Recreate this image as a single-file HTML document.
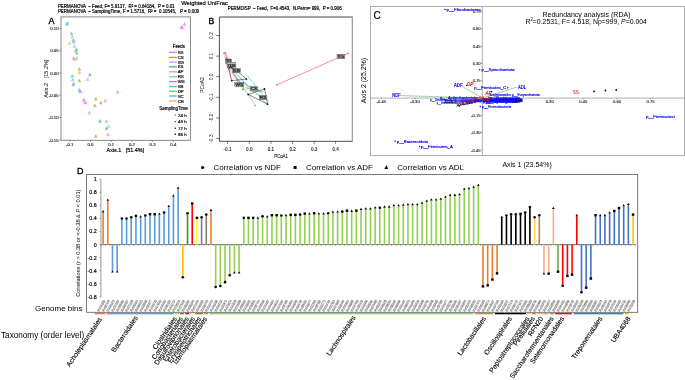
<!DOCTYPE html>
<html><head><meta charset="utf-8"><title>Figure</title>
<style>
html,body{margin:0;padding:0;background:#fff;width:685px;height:380px;overflow:hidden}
svg{display:block;font-family:"Liberation Sans", sans-serif;will-change:transform} text{white-space:pre}
</style></head><body>
<svg width="685" height="380" viewBox="0 0 685 380">
<rect width="685" height="380" fill="#fff"/>
<text x="57.90" y="7.60" font-size="4.6" fill="#000" stroke="#000" stroke-width="0.18" textLength="116.70" lengthAdjust="spacingAndGlyphs">PERMANOVA  – Feed, F= 5.9137,  R² = 0.64184,  P = 0.01</text>
<text x="57.90" y="12.50" font-size="4.6" fill="#000" stroke="#000" stroke-width="0.18" textLength="141.20" lengthAdjust="spacingAndGlyphs">PERMANOVA  – SamplingTime, F = 1.5716,  R² =  0.10545,   P = 0.009</text>
<text x="181.20" y="4.90" font-size="6.1" fill="#000" stroke="#000" stroke-width="0.18" textLength="46.80" lengthAdjust="spacingAndGlyphs">Weighted UniFrac</text>
<text x="48.60" y="24.00" font-size="9" fill="#000" stroke="#000" stroke-width="0.35">A</text>
<rect x="61" y="16.9" width="129.4" height="123.4" fill="none" stroke="#7a7a7a" stroke-width="0.9"/>
<line x1="59.30" y1="28.60" x2="61.00" y2="28.60" stroke="#555" stroke-width="0.6" />
<text x="58.60" y="30.10" font-size="4.3" fill="#333" stroke="#333" stroke-width="0.18" text-anchor="end">0.10</text>
<line x1="59.30" y1="50.80" x2="61.00" y2="50.80" stroke="#555" stroke-width="0.6" />
<text x="58.60" y="52.30" font-size="4.3" fill="#333" stroke="#333" stroke-width="0.18" text-anchor="end">0.05</text>
<line x1="59.30" y1="73.00" x2="61.00" y2="73.00" stroke="#555" stroke-width="0.6" />
<text x="58.60" y="74.50" font-size="4.3" fill="#333" stroke="#333" stroke-width="0.18" text-anchor="end">0.00</text>
<line x1="59.30" y1="95.20" x2="61.00" y2="95.20" stroke="#555" stroke-width="0.6" />
<text x="58.60" y="96.70" font-size="4.3" fill="#333" stroke="#333" stroke-width="0.18" text-anchor="end">-0.05</text>
<line x1="59.30" y1="117.60" x2="61.00" y2="117.60" stroke="#555" stroke-width="0.6" />
<text x="58.60" y="119.10" font-size="4.3" fill="#333" stroke="#333" stroke-width="0.18" text-anchor="end">-0.10</text>
<line x1="59.30" y1="140.00" x2="61.00" y2="140.00" stroke="#555" stroke-width="0.6" />
<text x="58.60" y="141.50" font-size="4.3" fill="#333" stroke="#333" stroke-width="0.18" text-anchor="end">-0.15</text>
<line x1="69.80" y1="140.40" x2="69.80" y2="141.90" stroke="#555" stroke-width="0.6" />
<text x="69.80" y="145.80" font-size="4.3" fill="#333" stroke="#333" stroke-width="0.18" text-anchor="middle">-0.1</text>
<line x1="90.50" y1="140.40" x2="90.50" y2="141.90" stroke="#555" stroke-width="0.6" />
<text x="90.50" y="145.80" font-size="4.3" fill="#333" stroke="#333" stroke-width="0.18" text-anchor="middle">0.0</text>
<line x1="111.20" y1="140.40" x2="111.20" y2="141.90" stroke="#555" stroke-width="0.6" />
<text x="111.20" y="145.80" font-size="4.3" fill="#333" stroke="#333" stroke-width="0.18" text-anchor="middle">0.1</text>
<line x1="131.90" y1="140.40" x2="131.90" y2="141.90" stroke="#555" stroke-width="0.6" />
<text x="131.90" y="145.80" font-size="4.3" fill="#333" stroke="#333" stroke-width="0.18" text-anchor="middle">0.2</text>
<line x1="152.60" y1="140.40" x2="152.60" y2="141.90" stroke="#555" stroke-width="0.6" />
<text x="152.60" y="145.80" font-size="4.3" fill="#333" stroke="#333" stroke-width="0.18" text-anchor="middle">0.3</text>
<line x1="173.30" y1="140.40" x2="173.30" y2="141.90" stroke="#555" stroke-width="0.6" />
<text x="173.30" y="145.80" font-size="4.3" fill="#333" stroke="#333" stroke-width="0.18" text-anchor="middle">0.4</text>
<text x="106.60" y="151.60" font-size="5.5" fill="#000" stroke="#000" stroke-width="0.18" textLength="37.60" lengthAdjust="spacingAndGlyphs">Axis.1   [51.4%]</text>
<text transform="translate(48.1,97.8) rotate(-90)" font-size="5.5" fill="#000" textLength="38.2" lengthAdjust="spacingAndGlyphs">Axis.2   [15.2%]</text>
<path d="M66.50 22.60 L67.95 25.40 L65.05 25.40 Z" fill="#68D6C3" fill-opacity="0.4" stroke="#68D6C3" stroke-width="0.5" stroke-opacity="0.8"/>
<path d="M66.50 22.80 L67.40 24.40 L65.60 24.40 Z" fill="#68D6C3" fill-opacity="0.65"/>
<path d="M67.60 21.80 L69.05 24.60 L66.15 24.60 Z" fill="#34C2E6" fill-opacity="0.4" stroke="#34C2E6" stroke-width="0.5" stroke-opacity="0.8"/>
<path d="M67.60 22.00 L68.50 23.60 L66.70 23.60 Z" fill="#34C2E6" fill-opacity="0.65"/>
<path d="M71.50 32.10 L72.95 34.90 L70.05 34.90 Z" fill="#34C2E6" fill-opacity="0.4" stroke="#34C2E6" stroke-width="0.5" stroke-opacity="0.8"/>
<path d="M71.50 32.30 L72.40 33.90 L70.60 33.90 Z" fill="#34C2E6" fill-opacity="0.65"/>
<path d="M72.40 35.30 L73.85 38.10 L70.95 38.10 Z" fill="#EFB061" fill-opacity="0.4" stroke="#EFB061" stroke-width="0.5" stroke-opacity="0.8"/>
<path d="M72.40 35.50 L73.30 37.10 L71.50 37.10 Z" fill="#EFB061" fill-opacity="0.65"/>
<path d="M73.20 38.60 L74.65 41.40 L71.75 41.40 Z" fill="#34C2E6" fill-opacity="0.4" stroke="#34C2E6" stroke-width="0.5" stroke-opacity="0.8"/>
<path d="M73.20 38.80 L74.10 40.40 L72.30 40.40 Z" fill="#34C2E6" fill-opacity="0.65"/>
<path d="M73.80 40.50 L75.25 43.30 L72.35 43.30 Z" fill="#58B0F3" fill-opacity="0.4" stroke="#58B0F3" stroke-width="0.5" stroke-opacity="0.8"/>
<path d="M73.80 40.70 L74.70 42.30 L72.90 42.30 Z" fill="#58B0F3" fill-opacity="0.65"/>
<path d="M69.50 41.70 L70.95 44.50 L68.05 44.50 Z" fill="#EFB061" fill-opacity="0.4" stroke="#EFB061" stroke-width="0.5" stroke-opacity="0.8"/>
<path d="M69.50 41.90 L70.40 43.50 L68.60 43.50 Z" fill="#EFB061" fill-opacity="0.65"/>
<path d="M74.50 44.80 L75.95 47.60 L73.05 47.60 Z" fill="#C6A2F5" fill-opacity="0.4" stroke="#C6A2F5" stroke-width="0.5" stroke-opacity="0.8"/>
<path d="M74.50 45.00 L75.40 46.60 L73.60 46.60 Z" fill="#C6A2F5" fill-opacity="0.65"/>
<path d="M76.50 48.10 L77.95 50.90 L75.05 50.90 Z" fill="#2EC46C" fill-opacity="0.4" stroke="#2EC46C" stroke-width="0.5" stroke-opacity="0.8"/>
<path d="M76.50 48.30 L77.40 49.90 L75.60 49.90 Z" fill="#2EC46C" fill-opacity="0.65"/>
<path d="M75.30 49.80 L76.75 52.60 L73.85 52.60 Z" fill="#C6A2F5" fill-opacity="0.4" stroke="#C6A2F5" stroke-width="0.5" stroke-opacity="0.8"/>
<path d="M75.30 50.00 L76.20 51.60 L74.40 51.60 Z" fill="#C6A2F5" fill-opacity="0.65"/>
<path d="M76.80 51.50 L78.25 54.30 L75.35 54.30 Z" fill="#79C23A" fill-opacity="0.4" stroke="#79C23A" stroke-width="0.5" stroke-opacity="0.8"/>
<path d="M76.80 51.70 L77.70 53.30 L75.90 53.30 Z" fill="#79C23A" fill-opacity="0.65"/>
<path d="M73.60 56.80 L75.05 59.60 L72.15 59.60 Z" fill="#F25BBE" fill-opacity="0.4" stroke="#F25BBE" stroke-width="0.5" stroke-opacity="0.8"/>
<path d="M73.60 57.00 L74.50 58.60 L72.70 58.60 Z" fill="#F25BBE" fill-opacity="0.65"/>
<path d="M76.80 56.80 L78.25 59.60 L75.35 59.60 Z" fill="#68D6C3" fill-opacity="0.4" stroke="#68D6C3" stroke-width="0.5" stroke-opacity="0.8"/>
<path d="M76.80 57.00 L77.70 58.60 L75.90 58.60 Z" fill="#68D6C3" fill-opacity="0.65"/>
<path d="M75.10 57.90 L76.55 60.70 L73.65 60.70 Z" fill="#EFB061" fill-opacity="0.4" stroke="#EFB061" stroke-width="0.5" stroke-opacity="0.8"/>
<path d="M75.10 58.10 L76.00 59.70 L74.20 59.70 Z" fill="#EFB061" fill-opacity="0.65"/>
<path d="M79.30 67.60 L80.75 70.40 L77.85 70.40 Z" fill="#79C23A" fill-opacity="0.4" stroke="#79C23A" stroke-width="0.5" stroke-opacity="0.8"/>
<path d="M79.30 67.80 L80.20 69.40 L78.40 69.40 Z" fill="#79C23A" fill-opacity="0.65"/>
<path d="M79.30 71.10 L80.75 73.90 L77.85 73.90 Z" fill="#EFB061" fill-opacity="0.4" stroke="#EFB061" stroke-width="0.5" stroke-opacity="0.8"/>
<path d="M79.30 71.30 L80.20 72.90 L78.40 72.90 Z" fill="#EFB061" fill-opacity="0.65"/>
<path d="M72.30 74.50 L73.75 77.30 L70.85 77.30 Z" fill="#34C2E6" fill-opacity="0.4" stroke="#34C2E6" stroke-width="0.5" stroke-opacity="0.8"/>
<path d="M72.30 74.70 L73.20 76.30 L71.40 76.30 Z" fill="#34C2E6" fill-opacity="0.65"/>
<path d="M89.80 73.20 L91.25 76.00 L88.35 76.00 Z" fill="#2EC46C" fill-opacity="0.4" stroke="#2EC46C" stroke-width="0.5" stroke-opacity="0.8"/>
<path d="M89.80 73.40 L90.70 75.00 L88.90 75.00 Z" fill="#2EC46C" fill-opacity="0.65"/>
<path d="M72.80 78.20 L74.25 81.00 L71.35 81.00 Z" fill="#68D6C3" fill-opacity="0.4" stroke="#68D6C3" stroke-width="0.5" stroke-opacity="0.8"/>
<path d="M72.80 78.40 L73.70 80.00 L71.90 80.00 Z" fill="#68D6C3" fill-opacity="0.65"/>
<path d="M79.30 79.10 L80.75 81.90 L77.85 81.90 Z" fill="#B3A222" fill-opacity="0.4" stroke="#B3A222" stroke-width="0.5" stroke-opacity="0.8"/>
<path d="M79.30 79.30 L80.20 80.90 L78.40 80.90 Z" fill="#B3A222" fill-opacity="0.65"/>
<path d="M87.60 77.80 L89.05 80.60 L86.15 80.60 Z" fill="#C6A2F5" fill-opacity="0.4" stroke="#C6A2F5" stroke-width="0.5" stroke-opacity="0.8"/>
<path d="M87.60 78.00 L88.50 79.60 L86.70 79.60 Z" fill="#C6A2F5" fill-opacity="0.65"/>
<path d="M73.70 81.80 L75.15 84.60 L72.25 84.60 Z" fill="#C6A2F5" fill-opacity="0.4" stroke="#C6A2F5" stroke-width="0.5" stroke-opacity="0.8"/>
<path d="M73.70 82.00 L74.60 83.60 L72.80 83.60 Z" fill="#C6A2F5" fill-opacity="0.65"/>
<path d="M73.40 83.30 L74.85 86.10 L71.95 86.10 Z" fill="#58B0F3" fill-opacity="0.4" stroke="#58B0F3" stroke-width="0.5" stroke-opacity="0.8"/>
<path d="M73.40 83.50 L74.30 85.10 L72.50 85.10 Z" fill="#58B0F3" fill-opacity="0.65"/>
<path d="M79.30 88.30 L80.75 91.10 L77.85 91.10 Z" fill="#58B0F3" fill-opacity="0.4" stroke="#58B0F3" stroke-width="0.5" stroke-opacity="0.8"/>
<path d="M79.30 88.50 L80.20 90.10 L78.40 90.10 Z" fill="#58B0F3" fill-opacity="0.65"/>
<path d="M80.20 90.10 L81.65 92.90 L78.75 92.90 Z" fill="#F25BBE" fill-opacity="0.4" stroke="#F25BBE" stroke-width="0.5" stroke-opacity="0.8"/>
<path d="M80.20 90.30 L81.10 91.90 L79.30 91.90 Z" fill="#F25BBE" fill-opacity="0.65"/>
<path d="M117.40 90.50 L118.85 93.30 L115.95 93.30 Z" fill="#EE6FEA" fill-opacity="0.4" stroke="#EE6FEA" stroke-width="0.5" stroke-opacity="0.8"/>
<path d="M117.40 90.70 L118.30 92.30 L116.50 92.30 Z" fill="#EE6FEA" fill-opacity="0.65"/>
<path d="M83.90 98.40 L85.35 101.20 L82.45 101.20 Z" fill="#F25BBE" fill-opacity="0.4" stroke="#F25BBE" stroke-width="0.5" stroke-opacity="0.8"/>
<path d="M83.90 98.60 L84.80 100.20 L83.00 100.20 Z" fill="#F25BBE" fill-opacity="0.65"/>
<path d="M85.20 101.20 L86.65 104.00 L83.75 104.00 Z" fill="#F25BBE" fill-opacity="0.4" stroke="#F25BBE" stroke-width="0.5" stroke-opacity="0.8"/>
<path d="M85.20 101.40 L86.10 103.00 L84.30 103.00 Z" fill="#F25BBE" fill-opacity="0.65"/>
<path d="M95.90 97.50 L97.35 100.30 L94.45 100.30 Z" fill="#B3A222" fill-opacity="0.4" stroke="#B3A222" stroke-width="0.5" stroke-opacity="0.8"/>
<path d="M95.90 97.70 L96.80 99.30 L95.00 99.30 Z" fill="#B3A222" fill-opacity="0.65"/>
<path d="M105.20 99.10 L106.65 101.90 L103.75 101.90 Z" fill="#F88F86" fill-opacity="0.4" stroke="#F88F86" stroke-width="0.5" stroke-opacity="0.8"/>
<path d="M105.20 99.30 L106.10 100.90 L104.30 100.90 Z" fill="#F88F86" fill-opacity="0.65"/>
<path d="M100.80 101.20 L102.25 104.00 L99.35 104.00 Z" fill="#B3A222" fill-opacity="0.4" stroke="#B3A222" stroke-width="0.5" stroke-opacity="0.8"/>
<path d="M100.80 101.40 L101.70 103.00 L99.90 103.00 Z" fill="#B3A222" fill-opacity="0.65"/>
<path d="M94.80 104.10 L96.25 106.90 L93.35 106.90 Z" fill="#B3A222" fill-opacity="0.4" stroke="#B3A222" stroke-width="0.5" stroke-opacity="0.8"/>
<path d="M94.80 104.30 L95.70 105.90 L93.90 105.90 Z" fill="#B3A222" fill-opacity="0.65"/>
<path d="M89.40 111.30 L90.85 114.10 L87.95 114.10 Z" fill="#F88F86" fill-opacity="0.4" stroke="#F88F86" stroke-width="0.5" stroke-opacity="0.8"/>
<path d="M89.40 111.50 L90.30 113.10 L88.50 113.10 Z" fill="#F88F86" fill-opacity="0.65"/>
<path d="M100.10 119.60 L101.55 122.40 L98.65 122.40 Z" fill="#2EC46C" fill-opacity="0.4" stroke="#2EC46C" stroke-width="0.5" stroke-opacity="0.8"/>
<path d="M100.10 119.80 L101.00 121.40 L99.20 121.40 Z" fill="#2EC46C" fill-opacity="0.65"/>
<path d="M106.50 120.00 L107.95 122.80 L105.05 122.80 Z" fill="#F88F86" fill-opacity="0.4" stroke="#F88F86" stroke-width="0.5" stroke-opacity="0.8"/>
<path d="M106.50 120.20 L107.40 121.80 L105.60 121.80 Z" fill="#F88F86" fill-opacity="0.65"/>
<path d="M108.80 124.80 L110.25 127.60 L107.35 127.60 Z" fill="#68D6C3" fill-opacity="0.4" stroke="#68D6C3" stroke-width="0.5" stroke-opacity="0.8"/>
<path d="M108.80 125.00 L109.70 126.60 L107.90 126.60 Z" fill="#68D6C3" fill-opacity="0.65"/>
<path d="M106.50 127.00 L107.95 129.80 L105.05 129.80 Z" fill="#2EC46C" fill-opacity="0.4" stroke="#2EC46C" stroke-width="0.5" stroke-opacity="0.8"/>
<path d="M106.50 127.20 L107.40 128.80 L105.60 128.80 Z" fill="#2EC46C" fill-opacity="0.65"/>
<path d="M95.80 134.70 L97.25 137.50 L94.35 137.50 Z" fill="#79C23A" fill-opacity="0.4" stroke="#79C23A" stroke-width="0.5" stroke-opacity="0.8"/>
<path d="M95.80 134.90 L96.70 136.50 L94.90 136.50 Z" fill="#79C23A" fill-opacity="0.65"/>
<path d="M108.10 133.00 L109.55 135.80 L106.65 135.80 Z" fill="#F88F86" fill-opacity="0.4" stroke="#F88F86" stroke-width="0.5" stroke-opacity="0.8"/>
<path d="M108.10 133.20 L109.00 134.80 L107.20 134.80 Z" fill="#F88F86" fill-opacity="0.65"/>
<path d="M181.50 25.60 L182.95 28.40 L180.05 28.40 Z" fill="#EE6FEA" fill-opacity="0.4" stroke="#EE6FEA" stroke-width="0.5" stroke-opacity="0.8"/>
<path d="M181.50 25.80 L182.40 27.40 L180.60 27.40 Z" fill="#EE6FEA" fill-opacity="0.65"/>
<path d="M184.60 22.60 L186.05 25.40 L183.15 25.40 Z" fill="#EE6FEA" fill-opacity="0.4" stroke="#EE6FEA" stroke-width="0.5" stroke-opacity="0.8"/>
<path d="M184.60 22.80 L185.50 24.40 L183.70 24.40 Z" fill="#EE6FEA" fill-opacity="0.65"/>
<path d="M182.20 26.20 L183.65 29.00 L180.75 29.00 Z" fill="#EE6FEA" fill-opacity="0.4" stroke="#EE6FEA" stroke-width="0.5" stroke-opacity="0.8"/>
<path d="M182.20 26.40 L183.10 28.00 L181.30 28.00 Z" fill="#EE6FEA" fill-opacity="0.65"/>
<text x="172.80" y="48.20" font-size="4.6" fill="#000" stroke="#000" stroke-width="0.18" textLength="12.00" lengthAdjust="spacingAndGlyphs">Feeds</text>
<line x1="169.00" y1="52.40" x2="176.80" y2="52.40" stroke="#EE6FEA" stroke-width="1.3" />
<text x="177.70" y="54.00" font-size="4.4" fill="#000" stroke="#000" stroke-width="0.18">SS</text>
<line x1="169.00" y1="57.40" x2="176.80" y2="57.40" stroke="#B3A222" stroke-width="1.3" />
<text x="177.70" y="59.00" font-size="4.4" fill="#000" stroke="#000" stroke-width="0.18">CS</text>
<line x1="169.00" y1="62.10" x2="176.80" y2="62.10" stroke="#C6A2F5" stroke-width="1.3" />
<text x="177.70" y="63.70" font-size="4.4" fill="#000" stroke="#000" stroke-width="0.18">SG</text>
<line x1="169.00" y1="66.80" x2="176.80" y2="66.80" stroke="#2EC46C" stroke-width="1.3" />
<text x="177.70" y="68.40" font-size="4.4" fill="#000" stroke="#000" stroke-width="0.18">KS</text>
<line x1="169.00" y1="71.80" x2="176.80" y2="71.80" stroke="#F88F86" stroke-width="1.3" />
<text x="177.70" y="73.40" font-size="4.4" fill="#000" stroke="#000" stroke-width="0.18">AP</text>
<line x1="169.00" y1="76.80" x2="176.80" y2="76.80" stroke="#68D6C3" stroke-width="1.3" />
<text x="177.70" y="78.40" font-size="4.4" fill="#000" stroke="#000" stroke-width="0.18">RS</text>
<line x1="169.00" y1="81.60" x2="176.80" y2="81.60" stroke="#F25BBE" stroke-width="1.3" />
<text x="177.70" y="83.20" font-size="4.4" fill="#000" stroke="#000" stroke-width="0.18">WS</text>
<line x1="169.00" y1="86.60" x2="176.80" y2="86.60" stroke="#34C2E6" stroke-width="1.3" />
<text x="177.70" y="88.20" font-size="4.4" fill="#000" stroke="#000" stroke-width="0.18">SB</text>
<line x1="169.00" y1="91.30" x2="176.80" y2="91.30" stroke="#79C23A" stroke-width="1.3" />
<text x="177.70" y="92.90" font-size="4.4" fill="#000" stroke="#000" stroke-width="0.18">DP</text>
<line x1="169.00" y1="96.00" x2="176.80" y2="96.00" stroke="#58B0F3" stroke-width="1.3" />
<text x="177.70" y="97.60" font-size="4.4" fill="#000" stroke="#000" stroke-width="0.18">SC</text>
<line x1="169.00" y1="101.00" x2="176.80" y2="101.00" stroke="#EFB061" stroke-width="1.3" />
<text x="177.70" y="102.60" font-size="4.4" fill="#000" stroke="#000" stroke-width="0.18">CR</text>
<text x="159.20" y="110.00" font-size="4.6" fill="#000" stroke="#000" stroke-width="0.18" textLength="28.60" lengthAdjust="spacingAndGlyphs">SamplingTime</text>
<circle cx="175.2" cy="115.00" r="0.55" fill="#000"/>
<text x="178.00" y="116.60" font-size="4.4" fill="#000" stroke="#000" stroke-width="0.18" textLength="8.60" lengthAdjust="spacingAndGlyphs">24 h</text>
<circle cx="175.2" cy="121.60" r="0.65" fill="#000"/>
<text x="178.00" y="123.20" font-size="4.4" fill="#000" stroke="#000" stroke-width="0.18" textLength="8.60" lengthAdjust="spacingAndGlyphs">48 h</text>
<circle cx="175.2" cy="128.20" r="0.75" fill="#000"/>
<text x="178.00" y="129.80" font-size="4.4" fill="#000" stroke="#000" stroke-width="0.18" textLength="8.60" lengthAdjust="spacingAndGlyphs">72 h</text>
<circle cx="175.2" cy="134.20" r="0.80" fill="#000"/>
<text x="178.00" y="135.80" font-size="4.4" fill="#000" stroke="#000" stroke-width="0.18" textLength="8.60" lengthAdjust="spacingAndGlyphs">96 h</text>
<text x="227.70" y="10.40" font-size="4.5" fill="#000" stroke="#000" stroke-width="0.18" textLength="113.90" lengthAdjust="spacingAndGlyphs">PERMDISP  – Feed,  F=0.4543,  N.Perm= 999,  P = 0.906</text>
<text x="208.40" y="24.00" font-size="8.6" fill="#000" stroke="#000" stroke-width="0.35">B</text>
<path d="M352.3 17 L219.4 17 L219.4 141.3 L352.3 141.3" fill="none" stroke="#222" stroke-width="0.8"/>
<line x1="352.30" y1="16.60" x2="352.30" y2="141.70" stroke="#8c8c8c" stroke-width="1.1" />
<line x1="216.20" y1="35.50" x2="219.40" y2="35.50" stroke="#222" stroke-width="0.6" />
<text transform="translate(212.6,35.50) rotate(-90)" font-size="4.6" fill="#000" text-anchor="middle">0.2</text>
<line x1="216.20" y1="56.10" x2="219.40" y2="56.10" stroke="#222" stroke-width="0.6" />
<text transform="translate(212.6,56.10) rotate(-90)" font-size="4.6" fill="#000" text-anchor="middle">0.1</text>
<line x1="216.20" y1="76.70" x2="219.40" y2="76.70" stroke="#222" stroke-width="0.6" />
<text transform="translate(212.6,76.70) rotate(-90)" font-size="4.6" fill="#000" text-anchor="middle">0.0</text>
<line x1="216.20" y1="97.30" x2="219.40" y2="97.30" stroke="#222" stroke-width="0.6" />
<text transform="translate(212.6,97.30) rotate(-90)" font-size="4.6" fill="#000" text-anchor="middle">-0.1</text>
<line x1="216.20" y1="117.90" x2="219.40" y2="117.90" stroke="#222" stroke-width="0.6" />
<text transform="translate(212.6,117.90) rotate(-90)" font-size="4.6" fill="#000" text-anchor="middle">-0.2</text>
<line x1="216.20" y1="138.50" x2="219.40" y2="138.50" stroke="#222" stroke-width="0.6" />
<text transform="translate(212.6,138.50) rotate(-90)" font-size="4.6" fill="#000" text-anchor="middle">-0.3</text>
<line x1="227.50" y1="141.30" x2="227.50" y2="143.80" stroke="#222" stroke-width="0.6" />
<text x="227.50" y="151.10" font-size="4.6" fill="#111" stroke="#111" stroke-width="0.1" text-anchor="middle">-0.1</text>
<line x1="249.30" y1="141.30" x2="249.30" y2="143.80" stroke="#222" stroke-width="0.6" />
<text x="249.30" y="151.10" font-size="4.6" fill="#111" stroke="#111" stroke-width="0.1" text-anchor="middle">0.0</text>
<line x1="270.90" y1="141.30" x2="270.90" y2="143.80" stroke="#222" stroke-width="0.6" />
<text x="270.90" y="151.10" font-size="4.6" fill="#111" stroke="#111" stroke-width="0.1" text-anchor="middle">0.1</text>
<line x1="292.60" y1="141.30" x2="292.60" y2="143.80" stroke="#222" stroke-width="0.6" />
<text x="292.60" y="151.10" font-size="4.6" fill="#111" stroke="#111" stroke-width="0.1" text-anchor="middle">0.2</text>
<line x1="314.20" y1="141.30" x2="314.20" y2="143.80" stroke="#222" stroke-width="0.6" />
<text x="314.20" y="151.10" font-size="4.6" fill="#111" stroke="#111" stroke-width="0.1" text-anchor="middle">0.3</text>
<line x1="335.60" y1="141.30" x2="335.60" y2="143.80" stroke="#222" stroke-width="0.6" />
<text x="335.60" y="151.10" font-size="4.6" fill="#111" stroke="#111" stroke-width="0.1" text-anchor="middle">0.4</text>
<text x="281.00" y="158.00" font-size="4.9" fill="#111" stroke="#111" stroke-width="0.1" text-anchor="middle" textLength="13.70" lengthAdjust="spacingAndGlyphs">PCoA1</text>
<text transform="translate(204.4,85) rotate(-90)" font-size="4.9" fill="#000" text-anchor="middle">PCoA2</text>
<line x1="224.00" y1="53.50" x2="230.40" y2="76.60" stroke="#F0B060" stroke-width="0.6" />
<line x1="225.40" y1="52.80" x2="231.20" y2="79.20" stroke="#EE6FEA" stroke-width="0.6" />
<line x1="225.40" y1="52.80" x2="229.00" y2="60.00" stroke="#EE6FEA" stroke-width="0.6" />
<line x1="224.00" y1="53.50" x2="228.00" y2="58.00" stroke="#F0B060" stroke-width="0.6" />
<line x1="232.00" y1="72.00" x2="243.00" y2="89.50" stroke="#79C23A" stroke-width="0.6" />
<line x1="233.00" y1="74.00" x2="245.00" y2="90.00" stroke="#79C23A" stroke-width="0.6" />
<line x1="236.00" y1="80.00" x2="262.00" y2="92.00" stroke="#79C23A" stroke-width="0.6" />
<line x1="232.00" y1="70.00" x2="255.50" y2="105.80" stroke="#58B0F3" stroke-width="0.6" />
<line x1="235.00" y1="72.00" x2="249.00" y2="88.00" stroke="#58B0F3" stroke-width="0.6" />
<line x1="247.50" y1="76.20" x2="268.50" y2="101.50" stroke="#34C2E6" stroke-width="0.6" />
<line x1="240.00" y1="78.00" x2="266.00" y2="103.00" stroke="#34C2E6" stroke-width="0.6" />
<line x1="233.00" y1="73.00" x2="240.00" y2="84.00" stroke="#F88F86" stroke-width="0.6" />
<line x1="230.00" y1="70.00" x2="238.00" y2="80.00" stroke="#EE6FEA" stroke-width="0.6" />
<line x1="244.00" y1="86.00" x2="268.00" y2="100.00" stroke="#68D6C3" stroke-width="0.6" />
<line x1="246.00" y1="88.00" x2="264.00" y2="92.00" stroke="#B3A222" stroke-width="0.6" />
<polyline points="231.7,80.6 246.4,79.1 236.5,70.5" fill="none" stroke="#111" stroke-width="0.5"/>
<polygon points="248.2,94.4 264.5,89.0 267.6,104.2" fill="none" stroke="#111" stroke-width="0.5"/>
<polyline points="226,57 231.7,80.6" fill="none" stroke="#111" stroke-width="0.4"/>
<circle cx="231.7" cy="80.6" r="0.9" fill="#111"/>
<circle cx="246.4" cy="79.1" r="0.9" fill="#111"/>
<circle cx="264.5" cy="89.0" r="0.9" fill="#111"/>
<circle cx="248.2" cy="94.4" r="0.9" fill="#111"/>
<circle cx="267.6" cy="104.2" r="0.9" fill="#111"/>
<circle cx="223.9" cy="53.4" r="1.1" fill="#F0B060"/><circle cx="225.4" cy="52.7" r="1.0" fill="#EE6FEA"/>
<circle cx="243" cy="89.5" r="1.0" fill="#79C23A"/><circle cx="255.5" cy="105.8" r="0.8" fill="#58B0F3"/>
<rect x="225.4" y="59" width="6.30" height="4.30" fill="#bdbdbd" stroke="#333" stroke-width="0.4"/>
<text x="228.55" y="62.40" font-size="4.4" fill="#111" text-anchor="middle" textLength="5.35" lengthAdjust="spacingAndGlyphs" stroke="#222" stroke-width="0.25">SG</text>
<rect x="227" y="62.2" width="8.40" height="5.30" fill="#bdbdbd" stroke="#333" stroke-width="0.4"/>
<text x="231.20" y="66.60" font-size="4.4" fill="#111" text-anchor="middle" textLength="7.14" lengthAdjust="spacingAndGlyphs" stroke="#222" stroke-width="0.25">KS</text>
<rect x="228.5" y="64.8" width="7.40" height="4.20" fill="#bdbdbd" stroke="#333" stroke-width="0.4"/>
<text x="232.20" y="68.10" font-size="4.4" fill="#111" text-anchor="middle" textLength="6.29" lengthAdjust="spacingAndGlyphs" stroke="#222" stroke-width="0.25">AP</text>
<rect x="232.2" y="68.5" width="8.40" height="4.20" fill="#bdbdbd" stroke="#333" stroke-width="0.4"/>
<text x="236.40" y="71.80" font-size="4.4" fill="#111" text-anchor="middle" textLength="7.14" lengthAdjust="spacingAndGlyphs" stroke="#222" stroke-width="0.25">SB</text>
<rect x="234.8" y="82.2" width="9.00" height="4.20" fill="#bdbdbd" stroke="#333" stroke-width="0.4"/>
<text x="239.30" y="85.50" font-size="4.4" fill="#111" text-anchor="middle" textLength="7.65" lengthAdjust="spacingAndGlyphs" stroke="#222" stroke-width="0.25">WS</text>
<rect x="250.3" y="86.6" width="7.30" height="4.40" fill="#bdbdbd" stroke="#333" stroke-width="0.4"/>
<text x="253.95" y="90.10" font-size="4.4" fill="#111" text-anchor="middle" textLength="6.21" lengthAdjust="spacingAndGlyphs" stroke="#222" stroke-width="0.25">CS</text>
<rect x="259.2" y="95.3" width="7.70" height="4.40" fill="#bdbdbd" stroke="#333" stroke-width="0.4"/>
<text x="263.05" y="98.80" font-size="4.4" fill="#111" text-anchor="middle" textLength="6.54" lengthAdjust="spacingAndGlyphs" stroke="#222" stroke-width="0.25">RS</text>
<rect x="337.0" y="54.2" width="7.90" height="4.40" fill="#bdbdbd" stroke="#333" stroke-width="0.4"/>
<text x="340.95" y="57.70" font-size="4.4" fill="#111" text-anchor="middle" textLength="6.71" lengthAdjust="spacingAndGlyphs" stroke="#222" stroke-width="0.25">SS</text>
<line x1="277.00" y1="84.80" x2="348.00" y2="53.40" stroke="#E8636B" stroke-width="0.7" />
<circle cx="277" cy="84.8" r="0.9" fill="#E8636B"/><circle cx="348" cy="53.4" r="0.8" fill="#E8636B"/>
<rect x="370.6" y="6.4" width="313.8" height="149.3" fill="none" stroke="#8a8a8a" stroke-width="0.7"/>
<text x="373.40" y="19.20" font-size="10" fill="#000" stroke="#000" stroke-width="0.2">C</text>
<line x1="370.60" y1="98.10" x2="684.40" y2="98.10" stroke="#8a8a8a" stroke-width="0.7" />
<line x1="482.30" y1="6.40" x2="482.30" y2="155.70" stroke="#8a8a8a" stroke-width="0.7" />
<line x1="480.80" y1="11.60" x2="482.30" y2="11.60" stroke="#555" stroke-width="0.5" />
<text x="480.60" y="13.10" font-size="4.1" fill="#222" stroke="#222" stroke-width="0.1" text-anchor="end">0.75</text>
<line x1="480.80" y1="28.90" x2="482.30" y2="28.90" stroke="#555" stroke-width="0.5" />
<text x="480.60" y="30.40" font-size="4.1" fill="#222" stroke="#222" stroke-width="0.1" text-anchor="end">0.60</text>
<line x1="480.80" y1="46.20" x2="482.30" y2="46.20" stroke="#555" stroke-width="0.5" />
<text x="480.60" y="47.70" font-size="4.1" fill="#222" stroke="#222" stroke-width="0.1" text-anchor="end">0.45</text>
<line x1="480.80" y1="63.50" x2="482.30" y2="63.50" stroke="#555" stroke-width="0.5" />
<text x="480.60" y="65.00" font-size="4.1" fill="#222" stroke="#222" stroke-width="0.1" text-anchor="end">0.30</text>
<line x1="480.80" y1="80.80" x2="482.30" y2="80.80" stroke="#555" stroke-width="0.5" />
<text x="480.60" y="82.30" font-size="4.1" fill="#222" stroke="#222" stroke-width="0.1" text-anchor="end">0.15</text>
<line x1="480.80" y1="115.40" x2="482.30" y2="115.40" stroke="#555" stroke-width="0.5" />
<text x="480.60" y="116.90" font-size="4.1" fill="#222" stroke="#222" stroke-width="0.1" text-anchor="end">-0.15</text>
<line x1="480.80" y1="132.70" x2="482.30" y2="132.70" stroke="#555" stroke-width="0.5" />
<text x="480.60" y="134.20" font-size="4.1" fill="#222" stroke="#222" stroke-width="0.1" text-anchor="end">-0.30</text>
<line x1="480.80" y1="150.00" x2="482.30" y2="150.00" stroke="#555" stroke-width="0.5" />
<text x="480.60" y="151.50" font-size="4.1" fill="#222" stroke="#222" stroke-width="0.1" text-anchor="end">-0.45</text>
<line x1="381.30" y1="98.10" x2="381.30" y2="99.40" stroke="#555" stroke-width="0.5" />
<text x="381.30" y="103.40" font-size="4.1" fill="#222" stroke="#222" stroke-width="0.1" text-anchor="middle">-0.45</text>
<line x1="415.00" y1="98.10" x2="415.00" y2="99.40" stroke="#555" stroke-width="0.5" />
<text x="415.00" y="103.40" font-size="4.1" fill="#222" stroke="#222" stroke-width="0.1" text-anchor="middle">-0.30</text>
<line x1="448.60" y1="98.10" x2="448.60" y2="99.40" stroke="#555" stroke-width="0.5" />
<text x="448.60" y="103.40" font-size="4.1" fill="#222" stroke="#222" stroke-width="0.1" text-anchor="middle">-0.15</text>
<line x1="516.00" y1="98.10" x2="516.00" y2="99.40" stroke="#555" stroke-width="0.5" />
<text x="516.00" y="103.40" font-size="4.1" fill="#222" stroke="#222" stroke-width="0.1" text-anchor="middle">0.15</text>
<line x1="549.70" y1="98.10" x2="549.70" y2="99.40" stroke="#555" stroke-width="0.5" />
<text x="549.70" y="103.40" font-size="4.1" fill="#222" stroke="#222" stroke-width="0.1" text-anchor="middle">0.30</text>
<line x1="583.30" y1="98.10" x2="583.30" y2="99.40" stroke="#555" stroke-width="0.5" />
<text x="583.30" y="103.40" font-size="4.1" fill="#222" stroke="#222" stroke-width="0.1" text-anchor="middle">0.45</text>
<line x1="617.00" y1="98.10" x2="617.00" y2="99.40" stroke="#555" stroke-width="0.5" />
<text x="617.00" y="103.40" font-size="4.1" fill="#222" stroke="#222" stroke-width="0.1" text-anchor="middle">0.60</text>
<line x1="650.60" y1="98.10" x2="650.60" y2="99.40" stroke="#555" stroke-width="0.5" />
<text x="650.60" y="103.40" font-size="4.1" fill="#222" stroke="#222" stroke-width="0.1" text-anchor="middle">0.75</text>
<text x="542.50" y="16.50" font-size="7" fill="#000" textLength="88.00" lengthAdjust="spacingAndGlyphs">Redundancy analysis (RDA)</text>
<text x="525.4" y="24.0" font-size="7" fill="#000" textLength="121.5" lengthAdjust="spacingAndGlyphs">R<tspan font-size="4.5" dy="-2.6">2</tspan><tspan dy="2.6">=0.2531, F= 4.518, Np=999, </tspan><tspan font-style="italic">P</tspan>=0.004</text>
<text x="502.40" y="167.00" font-size="7" fill="#000" textLength="49.40" lengthAdjust="spacingAndGlyphs">Axis 1 (23.54%)</text>
<text transform="translate(365.7,103.2) rotate(-90)" font-size="7" fill="#000" textLength="45.3" lengthAdjust="spacingAndGlyphs">Axis 2 (25.2%)</text>
<line x1="482.30" y1="98.10" x2="401.00" y2="95.60" stroke="#5DB85D" stroke-width="0.6" />
<line x1="482.30" y1="98.10" x2="462.50" y2="86.60" stroke="#5DB85D" stroke-width="0.6" />
<line x1="482.30" y1="98.10" x2="517.00" y2="87.00" stroke="#5DB85D" stroke-width="0.6" />
<circle cx="445.0" cy="9.6" r="0.75" fill="#0000F0"/>
<text x="446.60" y="11.00" font-size="4.3" fill="#0000F0" stroke="#0000F0" stroke-width="0.18" textLength="34.30" lengthAdjust="spacingAndGlyphs">p__Fibrobacteres</text>
<circle cx="479.6" cy="69.7" r="0.75" fill="#0000F0"/>
<text x="481.60" y="71.30" font-size="4.3" fill="#0000F0" stroke="#0000F0" stroke-width="0.18" textLength="33.00" lengthAdjust="spacingAndGlyphs">p__Spirochaetota</text>
<text x="392.20" y="96.50" font-size="4.5" fill="#0000F0" stroke="#0000F0" stroke-width="0.18" textLength="8.70" lengthAdjust="spacingAndGlyphs">NDF</text>
<text x="454.00" y="86.70" font-size="4.5" fill="#0000F0" stroke="#0000F0" stroke-width="0.18" textLength="8.60" lengthAdjust="spacingAndGlyphs">ADF</text>
<text x="518.00" y="88.60" font-size="4.5" fill="#0000F0" stroke="#0000F0" stroke-width="0.18" textLength="8.10" lengthAdjust="spacingAndGlyphs">ADL</text>
<circle cx="507.6" cy="87.8" r="0.75" fill="#0000F0"/>
<text x="474.30" y="89.10" font-size="4.3" fill="#0000F0" stroke="#0000F0" stroke-width="0.18" textLength="32.00" lengthAdjust="spacingAndGlyphs">p__Firmicutes_C</text>
<text x="511.70" y="96.00" font-size="4.3" fill="#0000F0" stroke="#0000F0" stroke-width="0.18" textLength="28.10" lengthAdjust="spacingAndGlyphs">p__Euryarchaeota</text>
<text x="489.80" y="95.50" font-size="4.3" fill="#0000F0" stroke="#0000F0" stroke-width="0.18" textLength="21.00" lengthAdjust="spacingAndGlyphs">Acholeplasmatales</text>
<text x="448.00" y="98.60" font-size="4.3" fill="#0000F0" stroke="#0000F0" stroke-width="0.18" textLength="29.50" lengthAdjust="spacingAndGlyphs">Actinobacteriota</text>
<circle cx="480.3" cy="106.6" r="0.75" fill="#0000F0"/>
<text x="482.00" y="108.10" font-size="4.3" fill="#0000F0" stroke="#0000F0" stroke-width="0.18" textLength="29.20" lengthAdjust="spacingAndGlyphs">p__Proteobacteria</text>
<circle cx="395.2" cy="141.1" r="0.75" fill="#0000F0"/>
<text x="396.70" y="142.60" font-size="4.3" fill="#0000F0" stroke="#0000F0" stroke-width="0.18" textLength="31.30" lengthAdjust="spacingAndGlyphs">p__Bacteroidota</text>
<circle cx="419.6" cy="146.6" r="0.75" fill="#0000F0"/>
<text x="421.00" y="148.10" font-size="4.3" fill="#0000F0" stroke="#0000F0" stroke-width="0.18" textLength="31.80" lengthAdjust="spacingAndGlyphs">p__Firmicutes_A</text>
<circle cx="674.3" cy="116.8" r="0.75" fill="#0000F0"/>
<text x="646.10" y="117.80" font-size="4.3" fill="#0000F0" stroke="#0000F0" stroke-width="0.18" textLength="27.20" lengthAdjust="spacingAndGlyphs">p__Firmicutes</text>
<text x="430.20" y="101.40" font-size="4.3" fill="#0000F0" stroke="#0000F0" stroke-width="0.18" textLength="26.00" lengthAdjust="spacingAndGlyphs">p__Desulfobacterota</text>
<text x="436.80" y="104.00" font-size="4.3" fill="#0000F0" stroke="#0000F0" stroke-width="0.18" textLength="24.00" lengthAdjust="spacingAndGlyphs">p__Verrucomicrobiota</text>
<text x="440.00" y="99.00" font-size="4.3" fill="#0000F0" stroke="#0000F0" stroke-width="0.18" textLength="6.00" lengthAdjust="spacingAndGlyphs">p__</text>
<text x="483.00" y="100.00" font-size="4.3" fill="#0000F0" stroke="#0000F0" stroke-width="0.18" textLength="36.00" lengthAdjust="spacingAndGlyphs">p__Cyanobacteria</text>
<text x="484.00" y="101.80" font-size="4.3" fill="#0000F0" stroke="#0000F0" stroke-width="0.18" textLength="38.00" lengthAdjust="spacingAndGlyphs">p__Chloroflexota</text>
<text x="483.00" y="103.30" font-size="4.3" fill="#0000F0" stroke="#0000F0" stroke-width="0.18" textLength="35.00" lengthAdjust="spacingAndGlyphs">p__Patescibacteria</text>
<text x="490.00" y="99.20" font-size="4.3" fill="#0000F0" stroke="#0000F0" stroke-width="0.18" textLength="30.00" lengthAdjust="spacingAndGlyphs">p__Elusimicrobiota</text>
<text x="486.00" y="102.60" font-size="4.3" fill="#0000F0" stroke="#0000F0" stroke-width="0.18" textLength="32.00" lengthAdjust="spacingAndGlyphs">p__Synergistota</text>
<text x="478.00" y="101.00" font-size="4.3" fill="#0000F0" stroke="#0000F0" stroke-width="0.18" textLength="20.00" lengthAdjust="spacingAndGlyphs">p__Bdellovibrionota</text>
<rect x="482.5" y="98.3" width="40" height="3.8" fill="#1010F0"/>
<rect x="461" y="99.4" width="21" height="3" fill="#2a2ad8" opacity="0.7"/>
<text x="444.60" y="103.00" font-size="4.0" fill="#1a1a6a" stroke="#1a1a6a" stroke-width="0.18" textLength="12.00" lengthAdjust="spacingAndGlyphs">WS/SB/SC</text>
<text x="467.00" y="85.80" font-size="4.6" fill="#EE1111" stroke="#EE1111" stroke-width="0.18" font-style="italic">DP</text>
<text x="485.50" y="94.50" font-size="4.6" fill="#EE1111" stroke="#EE1111" stroke-width="0.18" font-style="italic">AP</text>
<text x="572.80" y="93.60" font-size="4.6" fill="#EE1111" stroke="#EE1111" stroke-width="0.05">SS</text>
<text x="483.50" y="101.00" font-size="4.2" fill="#EE1111" stroke="#EE1111" stroke-width="0.18">CS</text>
<rect x="455" y="99.3" width="27" height="2.6" fill="#1a1ae0" opacity="0.75"/>
<text transform="translate(459,106.0) rotate(-16)" font-size="4.2" fill="#EE1111" stroke="#EE1111" stroke-width="0.12" font-style="italic">SG</text>
<text transform="translate(462,105.0) rotate(-16)" font-size="4.2" fill="#EE1111" stroke="#EE1111" stroke-width="0.12" font-style="italic">KS</text>
<text transform="translate(465.5,104.0) rotate(-16)" font-size="4.2" fill="#EE1111" stroke="#EE1111" stroke-width="0.12" font-style="italic">RS</text>
<text transform="translate(469,103.0) rotate(-16)" font-size="4.2" fill="#EE1111" stroke="#EE1111" stroke-width="0.12" font-style="italic">WS</text>
<text transform="translate(472.5,102.0) rotate(-16)" font-size="4.2" fill="#EE1111" stroke="#EE1111" stroke-width="0.12" font-style="italic">CR</text>
<text transform="translate(476,101.0) rotate(-16)" font-size="4.2" fill="#EE1111" stroke="#EE1111" stroke-width="0.12" font-style="italic">SC</text>
<text transform="translate(479,100.2) rotate(-16)" font-size="4.2" fill="#EE1111" stroke="#EE1111" stroke-width="0.12" font-style="italic">SB</text>
<text x="462.00" y="103.60" font-size="4.3" fill="#0000F0" stroke="#0000F0" stroke-width="0.18" textLength="10.00" lengthAdjust="spacingAndGlyphs">p__Spiro</text>
<text x="470.00" y="101.50" font-size="4.3" fill="#0000F0" stroke="#0000F0" stroke-width="0.18" textLength="9.00" lengthAdjust="spacingAndGlyphs">p__Elus</text>
<circle cx="466.6" cy="85.4" r="0.7" fill="#000"/>
<circle cx="491.8" cy="91.4" r="0.7" fill="#000"/>
<circle cx="457.8" cy="105.4" r="0.7" fill="#000"/>
<circle cx="459.5" cy="105.8" r="0.7" fill="#000"/>
<circle cx="461" cy="104.8" r="0.7" fill="#000"/>
<circle cx="464" cy="104.4" r="0.7" fill="#000"/>
<circle cx="467" cy="104.0" r="0.7" fill="#000"/>
<circle cx="469.5" cy="103.4" r="0.7" fill="#000"/>
<circle cx="518.9" cy="100.9" r="0.7" fill="#000"/>
<circle cx="516" cy="101.2" r="0.7" fill="#000"/>
<circle cx="521" cy="100.6" r="0.7" fill="#000"/>
<circle cx="489" cy="97.2" r="0.7" fill="#000"/>
<circle cx="495" cy="97.0" r="0.7" fill="#000"/>
<circle cx="472" cy="103.2" r="0.7" fill="#000"/>
<circle cx="475" cy="102.5" r="0.7" fill="#000"/>
<circle cx="594" cy="91.4" r="0.9" fill="#000"/>
<circle cx="605.4" cy="90.5" r="0.9" fill="#000"/>
<circle cx="616.2" cy="90.0" r="0.9" fill="#000"/>
<path d="M456.5 104.2 L459.5 106.8 M456.5 106.6 L459 104" stroke="#000" stroke-width="0.6"/>
<text x="77.00" y="174.00" font-size="9" fill="#000" stroke="#000" stroke-width="0.35">D</text>
<circle cx="202.6" cy="167.5" r="1.6" fill="#000"/>
<text x="213.60" y="170.20" font-size="7.9" fill="#000" textLength="67.30" lengthAdjust="spacingAndGlyphs">Correlation vs NDF</text>
<rect x="293.6" y="166.0" width="3.0" height="3.0" fill="#000"/>
<text x="306.00" y="170.20" font-size="7.9" fill="#000" textLength="67.00" lengthAdjust="spacingAndGlyphs">Correlation vs ADF</text>
<path d="M386.3 165.0 L388.2 169.0 L384.4 169.0 Z" fill="#000"/>
<text x="397.30" y="170.20" font-size="7.9" fill="#000" textLength="66.70" lengthAdjust="spacingAndGlyphs">Correlation vs ADL</text>
<rect x="86.6" y="174.5" width="551.1" height="137.8" fill="none" stroke="#5a5a5a" stroke-width="0.8"/>
<line x1="100.90" y1="179.20" x2="100.90" y2="297.40" stroke="#b4b8bc" stroke-width="1.4" />
<line x1="99.30" y1="179.30" x2="100.90" y2="179.30" stroke="#666" stroke-width="0.5" />
<text x="96.70" y="181.20" font-size="5.3" fill="#000" stroke="#000" stroke-width="0.18" text-anchor="end">1</text>
<line x1="99.30" y1="192.36" x2="100.90" y2="192.36" stroke="#666" stroke-width="0.5" />
<text x="96.70" y="194.26" font-size="5.3" fill="#000" stroke="#000" stroke-width="0.18" text-anchor="end">0.8</text>
<line x1="99.30" y1="205.42" x2="100.90" y2="205.42" stroke="#666" stroke-width="0.5" />
<text x="96.70" y="207.32" font-size="5.3" fill="#000" stroke="#000" stroke-width="0.18" text-anchor="end">0.6</text>
<line x1="99.30" y1="218.48" x2="100.90" y2="218.48" stroke="#666" stroke-width="0.5" />
<text x="96.70" y="220.38" font-size="5.3" fill="#000" stroke="#000" stroke-width="0.18" text-anchor="end">0.4</text>
<line x1="99.30" y1="231.54" x2="100.90" y2="231.54" stroke="#666" stroke-width="0.5" />
<text x="96.70" y="233.44" font-size="5.3" fill="#000" stroke="#000" stroke-width="0.18" text-anchor="end">0.2</text>
<line x1="99.30" y1="244.60" x2="100.90" y2="244.60" stroke="#666" stroke-width="0.5" />
<text x="96.70" y="246.50" font-size="5.3" fill="#000" stroke="#000" stroke-width="0.18" text-anchor="end">0</text>
<line x1="99.30" y1="257.66" x2="100.90" y2="257.66" stroke="#666" stroke-width="0.5" />
<text x="96.70" y="259.56" font-size="5.3" fill="#000" stroke="#000" stroke-width="0.18" text-anchor="end">-0.2</text>
<line x1="99.30" y1="270.72" x2="100.90" y2="270.72" stroke="#666" stroke-width="0.5" />
<text x="96.70" y="272.62" font-size="5.3" fill="#000" stroke="#000" stroke-width="0.18" text-anchor="end">-0.4</text>
<line x1="99.30" y1="283.78" x2="100.90" y2="283.78" stroke="#666" stroke-width="0.5" />
<text x="96.70" y="285.68" font-size="5.3" fill="#000" stroke="#000" stroke-width="0.18" text-anchor="end">-0.6</text>
<line x1="99.30" y1="296.84" x2="100.90" y2="296.84" stroke="#666" stroke-width="0.5" />
<text x="96.70" y="298.74" font-size="5.3" fill="#000" stroke="#000" stroke-width="0.18" text-anchor="end">-0.8</text>
<text transform="translate(79.6,243.2) rotate(-90)" font-size="5.7" fill="#000" text-anchor="middle" textLength="107.3" lengthAdjust="spacingAndGlyphs">Correlations (<tspan font-style="italic">r</tspan> &gt; 0.38 or &lt;-0.38 &amp; <tspan font-style="italic">P</tspan> &lt; 0.01)</text>
<line x1="100.90" y1="244.60" x2="635.80" y2="244.60" stroke="#444" stroke-width="0.7" />
<line x1="100.75" y1="244.60" x2="100.75" y2="245.90" stroke="#444" stroke-width="0.4" />
<line x1="105.44" y1="244.60" x2="105.44" y2="245.90" stroke="#444" stroke-width="0.4" />
<line x1="110.13" y1="244.60" x2="110.13" y2="245.90" stroke="#444" stroke-width="0.4" />
<line x1="114.82" y1="244.60" x2="114.82" y2="245.90" stroke="#444" stroke-width="0.4" />
<line x1="119.52" y1="244.60" x2="119.52" y2="245.90" stroke="#444" stroke-width="0.4" />
<line x1="124.20" y1="244.60" x2="124.20" y2="245.90" stroke="#444" stroke-width="0.4" />
<line x1="128.90" y1="244.60" x2="128.90" y2="245.90" stroke="#444" stroke-width="0.4" />
<line x1="133.59" y1="244.60" x2="133.59" y2="245.90" stroke="#444" stroke-width="0.4" />
<line x1="138.28" y1="244.60" x2="138.28" y2="245.90" stroke="#444" stroke-width="0.4" />
<line x1="142.97" y1="244.60" x2="142.97" y2="245.90" stroke="#444" stroke-width="0.4" />
<line x1="147.66" y1="244.60" x2="147.66" y2="245.90" stroke="#444" stroke-width="0.4" />
<line x1="152.34" y1="244.60" x2="152.34" y2="245.90" stroke="#444" stroke-width="0.4" />
<line x1="157.03" y1="244.60" x2="157.03" y2="245.90" stroke="#444" stroke-width="0.4" />
<line x1="161.72" y1="244.60" x2="161.72" y2="245.90" stroke="#444" stroke-width="0.4" />
<line x1="166.41" y1="244.60" x2="166.41" y2="245.90" stroke="#444" stroke-width="0.4" />
<line x1="171.10" y1="244.60" x2="171.10" y2="245.90" stroke="#444" stroke-width="0.4" />
<line x1="175.79" y1="244.60" x2="175.79" y2="245.90" stroke="#444" stroke-width="0.4" />
<line x1="180.48" y1="244.60" x2="180.48" y2="245.90" stroke="#444" stroke-width="0.4" />
<line x1="185.17" y1="244.60" x2="185.17" y2="245.90" stroke="#444" stroke-width="0.4" />
<line x1="189.87" y1="244.60" x2="189.87" y2="245.90" stroke="#444" stroke-width="0.4" />
<line x1="194.56" y1="244.60" x2="194.56" y2="245.90" stroke="#444" stroke-width="0.4" />
<line x1="199.25" y1="244.60" x2="199.25" y2="245.90" stroke="#444" stroke-width="0.4" />
<line x1="203.94" y1="244.60" x2="203.94" y2="245.90" stroke="#444" stroke-width="0.4" />
<line x1="208.62" y1="244.60" x2="208.62" y2="245.90" stroke="#444" stroke-width="0.4" />
<line x1="213.31" y1="244.60" x2="213.31" y2="245.90" stroke="#444" stroke-width="0.4" />
<line x1="218.01" y1="244.60" x2="218.01" y2="245.90" stroke="#444" stroke-width="0.4" />
<line x1="222.70" y1="244.60" x2="222.70" y2="245.90" stroke="#444" stroke-width="0.4" />
<line x1="227.39" y1="244.60" x2="227.39" y2="245.90" stroke="#444" stroke-width="0.4" />
<line x1="232.08" y1="244.60" x2="232.08" y2="245.90" stroke="#444" stroke-width="0.4" />
<line x1="236.77" y1="244.60" x2="236.77" y2="245.90" stroke="#444" stroke-width="0.4" />
<line x1="241.46" y1="244.60" x2="241.46" y2="245.90" stroke="#444" stroke-width="0.4" />
<line x1="246.15" y1="244.60" x2="246.15" y2="245.90" stroke="#444" stroke-width="0.4" />
<line x1="250.84" y1="244.60" x2="250.84" y2="245.90" stroke="#444" stroke-width="0.4" />
<line x1="255.53" y1="244.60" x2="255.53" y2="245.90" stroke="#444" stroke-width="0.4" />
<line x1="260.21" y1="244.60" x2="260.21" y2="245.90" stroke="#444" stroke-width="0.4" />
<line x1="264.90" y1="244.60" x2="264.90" y2="245.90" stroke="#444" stroke-width="0.4" />
<line x1="269.59" y1="244.60" x2="269.59" y2="245.90" stroke="#444" stroke-width="0.4" />
<line x1="274.28" y1="244.60" x2="274.28" y2="245.90" stroke="#444" stroke-width="0.4" />
<line x1="278.98" y1="244.60" x2="278.98" y2="245.90" stroke="#444" stroke-width="0.4" />
<line x1="283.66" y1="244.60" x2="283.66" y2="245.90" stroke="#444" stroke-width="0.4" />
<line x1="288.36" y1="244.60" x2="288.36" y2="245.90" stroke="#444" stroke-width="0.4" />
<line x1="293.04" y1="244.60" x2="293.04" y2="245.90" stroke="#444" stroke-width="0.4" />
<line x1="297.74" y1="244.60" x2="297.74" y2="245.90" stroke="#444" stroke-width="0.4" />
<line x1="302.42" y1="244.60" x2="302.42" y2="245.90" stroke="#444" stroke-width="0.4" />
<line x1="307.12" y1="244.60" x2="307.12" y2="245.90" stroke="#444" stroke-width="0.4" />
<line x1="311.80" y1="244.60" x2="311.80" y2="245.90" stroke="#444" stroke-width="0.4" />
<line x1="316.50" y1="244.60" x2="316.50" y2="245.90" stroke="#444" stroke-width="0.4" />
<line x1="321.18" y1="244.60" x2="321.18" y2="245.90" stroke="#444" stroke-width="0.4" />
<line x1="325.88" y1="244.60" x2="325.88" y2="245.90" stroke="#444" stroke-width="0.4" />
<line x1="330.56" y1="244.60" x2="330.56" y2="245.90" stroke="#444" stroke-width="0.4" />
<line x1="335.25" y1="244.60" x2="335.25" y2="245.90" stroke="#444" stroke-width="0.4" />
<line x1="339.94" y1="244.60" x2="339.94" y2="245.90" stroke="#444" stroke-width="0.4" />
<line x1="344.63" y1="244.60" x2="344.63" y2="245.90" stroke="#444" stroke-width="0.4" />
<line x1="349.32" y1="244.60" x2="349.32" y2="245.90" stroke="#444" stroke-width="0.4" />
<line x1="354.01" y1="244.60" x2="354.01" y2="245.90" stroke="#444" stroke-width="0.4" />
<line x1="358.71" y1="244.60" x2="358.71" y2="245.90" stroke="#444" stroke-width="0.4" />
<line x1="363.39" y1="244.60" x2="363.39" y2="245.90" stroke="#444" stroke-width="0.4" />
<line x1="368.09" y1="244.60" x2="368.09" y2="245.90" stroke="#444" stroke-width="0.4" />
<line x1="372.77" y1="244.60" x2="372.77" y2="245.90" stroke="#444" stroke-width="0.4" />
<line x1="377.47" y1="244.60" x2="377.47" y2="245.90" stroke="#444" stroke-width="0.4" />
<line x1="382.15" y1="244.60" x2="382.15" y2="245.90" stroke="#444" stroke-width="0.4" />
<line x1="386.85" y1="244.60" x2="386.85" y2="245.90" stroke="#444" stroke-width="0.4" />
<line x1="391.53" y1="244.60" x2="391.53" y2="245.90" stroke="#444" stroke-width="0.4" />
<line x1="396.23" y1="244.60" x2="396.23" y2="245.90" stroke="#444" stroke-width="0.4" />
<line x1="400.91" y1="244.60" x2="400.91" y2="245.90" stroke="#444" stroke-width="0.4" />
<line x1="405.61" y1="244.60" x2="405.61" y2="245.90" stroke="#444" stroke-width="0.4" />
<line x1="410.29" y1="244.60" x2="410.29" y2="245.90" stroke="#444" stroke-width="0.4" />
<line x1="414.99" y1="244.60" x2="414.99" y2="245.90" stroke="#444" stroke-width="0.4" />
<line x1="419.67" y1="244.60" x2="419.67" y2="245.90" stroke="#444" stroke-width="0.4" />
<line x1="424.37" y1="244.60" x2="424.37" y2="245.90" stroke="#444" stroke-width="0.4" />
<line x1="429.05" y1="244.60" x2="429.05" y2="245.90" stroke="#444" stroke-width="0.4" />
<line x1="433.75" y1="244.60" x2="433.75" y2="245.90" stroke="#444" stroke-width="0.4" />
<line x1="438.43" y1="244.60" x2="438.43" y2="245.90" stroke="#444" stroke-width="0.4" />
<line x1="443.12" y1="244.60" x2="443.12" y2="245.90" stroke="#444" stroke-width="0.4" />
<line x1="447.81" y1="244.60" x2="447.81" y2="245.90" stroke="#444" stroke-width="0.4" />
<line x1="452.50" y1="244.60" x2="452.50" y2="245.90" stroke="#444" stroke-width="0.4" />
<line x1="457.20" y1="244.60" x2="457.20" y2="245.90" stroke="#444" stroke-width="0.4" />
<line x1="461.88" y1="244.60" x2="461.88" y2="245.90" stroke="#444" stroke-width="0.4" />
<line x1="466.58" y1="244.60" x2="466.58" y2="245.90" stroke="#444" stroke-width="0.4" />
<line x1="471.26" y1="244.60" x2="471.26" y2="245.90" stroke="#444" stroke-width="0.4" />
<line x1="475.96" y1="244.60" x2="475.96" y2="245.90" stroke="#444" stroke-width="0.4" />
<line x1="480.64" y1="244.60" x2="480.64" y2="245.90" stroke="#444" stroke-width="0.4" />
<line x1="485.34" y1="244.60" x2="485.34" y2="245.90" stroke="#444" stroke-width="0.4" />
<line x1="490.02" y1="244.60" x2="490.02" y2="245.90" stroke="#444" stroke-width="0.4" />
<line x1="494.72" y1="244.60" x2="494.72" y2="245.90" stroke="#444" stroke-width="0.4" />
<line x1="499.40" y1="244.60" x2="499.40" y2="245.90" stroke="#444" stroke-width="0.4" />
<line x1="504.10" y1="244.60" x2="504.10" y2="245.90" stroke="#444" stroke-width="0.4" />
<line x1="508.78" y1="244.60" x2="508.78" y2="245.90" stroke="#444" stroke-width="0.4" />
<line x1="513.48" y1="244.60" x2="513.48" y2="245.90" stroke="#444" stroke-width="0.4" />
<line x1="518.16" y1="244.60" x2="518.16" y2="245.90" stroke="#444" stroke-width="0.4" />
<line x1="522.86" y1="244.60" x2="522.86" y2="245.90" stroke="#444" stroke-width="0.4" />
<line x1="527.54" y1="244.60" x2="527.54" y2="245.90" stroke="#444" stroke-width="0.4" />
<line x1="532.24" y1="244.60" x2="532.24" y2="245.90" stroke="#444" stroke-width="0.4" />
<line x1="536.92" y1="244.60" x2="536.92" y2="245.90" stroke="#444" stroke-width="0.4" />
<line x1="541.62" y1="244.60" x2="541.62" y2="245.90" stroke="#444" stroke-width="0.4" />
<line x1="546.30" y1="244.60" x2="546.30" y2="245.90" stroke="#444" stroke-width="0.4" />
<line x1="551.00" y1="244.60" x2="551.00" y2="245.90" stroke="#444" stroke-width="0.4" />
<line x1="555.69" y1="244.60" x2="555.69" y2="245.90" stroke="#444" stroke-width="0.4" />
<line x1="560.38" y1="244.60" x2="560.38" y2="245.90" stroke="#444" stroke-width="0.4" />
<line x1="565.07" y1="244.60" x2="565.07" y2="245.90" stroke="#444" stroke-width="0.4" />
<line x1="569.75" y1="244.60" x2="569.75" y2="245.90" stroke="#444" stroke-width="0.4" />
<line x1="574.45" y1="244.60" x2="574.45" y2="245.90" stroke="#444" stroke-width="0.4" />
<line x1="579.13" y1="244.60" x2="579.13" y2="245.90" stroke="#444" stroke-width="0.4" />
<line x1="583.83" y1="244.60" x2="583.83" y2="245.90" stroke="#444" stroke-width="0.4" />
<line x1="588.51" y1="244.60" x2="588.51" y2="245.90" stroke="#444" stroke-width="0.4" />
<line x1="593.21" y1="244.60" x2="593.21" y2="245.90" stroke="#444" stroke-width="0.4" />
<line x1="597.89" y1="244.60" x2="597.89" y2="245.90" stroke="#444" stroke-width="0.4" />
<line x1="602.59" y1="244.60" x2="602.59" y2="245.90" stroke="#444" stroke-width="0.4" />
<line x1="607.27" y1="244.60" x2="607.27" y2="245.90" stroke="#444" stroke-width="0.4" />
<line x1="611.97" y1="244.60" x2="611.97" y2="245.90" stroke="#444" stroke-width="0.4" />
<line x1="616.66" y1="244.60" x2="616.66" y2="245.90" stroke="#444" stroke-width="0.4" />
<line x1="621.35" y1="244.60" x2="621.35" y2="245.90" stroke="#444" stroke-width="0.4" />
<line x1="626.04" y1="244.60" x2="626.04" y2="245.90" stroke="#444" stroke-width="0.4" />
<line x1="630.73" y1="244.60" x2="630.73" y2="245.90" stroke="#444" stroke-width="0.4" />
<line x1="635.42" y1="244.60" x2="635.42" y2="245.90" stroke="#444" stroke-width="0.4" />
<rect x="102.30" y="212.41" width="1.6" height="32.19" fill="#ED7D31"/>
<path d="M103.10 210.11 L104.40 212.41 L101.80 212.41 Z" fill="#000"/>
<rect x="106.99" y="200.78" width="1.6" height="43.82" fill="#ED7D31"/>
<path d="M107.79 198.48 L109.09 200.78 L106.49 200.78 Z" fill="#000"/>
<rect x="111.68" y="244.60" width="1.6" height="26.19" fill="#5B9BD5"/>
<path d="M112.48 270.29 L113.78 272.59 L111.18 272.59 Z" fill="#000"/>
<rect x="116.37" y="244.60" width="1.6" height="26.19" fill="#5B9BD5"/>
<path d="M117.17 270.29 L118.47 272.59 L115.87 272.59 Z" fill="#000"/>
<rect x="121.06" y="219.39" width="1.6" height="25.21" fill="#5B9BD5"/>
<circle cx="121.86" cy="218.49" r="1.3" fill="#000"/>
<rect x="125.75" y="219.39" width="1.6" height="25.21" fill="#5B9BD5"/>
<circle cx="126.55" cy="218.49" r="1.3" fill="#000"/>
<rect x="130.44" y="218.09" width="1.6" height="26.51" fill="#5B9BD5"/>
<circle cx="131.24" cy="217.19" r="1.3" fill="#000"/>
<rect x="135.13" y="216.78" width="1.6" height="27.82" fill="#5B9BD5"/>
<circle cx="135.93" cy="215.88" r="1.3" fill="#000"/>
<rect x="139.82" y="217.44" width="1.6" height="27.16" fill="#5B9BD5"/>
<path d="M140.62 215.14 L141.92 217.44 L139.32 217.44 Z" fill="#000"/>
<rect x="144.51" y="216.46" width="1.6" height="28.14" fill="#5B9BD5"/>
<circle cx="145.31" cy="215.56" r="1.3" fill="#000"/>
<rect x="149.20" y="215.15" width="1.6" height="29.45" fill="#5B9BD5"/>
<rect x="148.75" y="213.05" width="2.5" height="2.4" fill="#000"/>
<rect x="153.89" y="215.15" width="1.6" height="29.45" fill="#5B9BD5"/>
<rect x="153.44" y="213.05" width="2.5" height="2.4" fill="#000"/>
<rect x="158.58" y="214.82" width="1.6" height="29.78" fill="#5B9BD5"/>
<path d="M159.38 212.52 L160.68 214.82 L158.08 214.82 Z" fill="#000"/>
<rect x="163.27" y="213.52" width="1.6" height="31.08" fill="#5B9BD5"/>
<circle cx="164.07" cy="212.62" r="1.3" fill="#000"/>
<rect x="167.96" y="206.99" width="1.6" height="37.61" fill="#5B9BD5"/>
<path d="M168.76 204.69 L170.06 206.99 L167.46 206.99 Z" fill="#000"/>
<rect x="172.65" y="196.54" width="1.6" height="48.06" fill="#5B9BD5"/>
<path d="M173.45 194.24 L174.75 196.54 L172.15 196.54 Z" fill="#000"/>
<rect x="177.34" y="188.70" width="1.6" height="55.90" fill="#5B9BD5"/>
<path d="M178.14 186.40 L179.44 188.70 L176.84 188.70 Z" fill="#000"/>
<rect x="182.03" y="244.60" width="1.6" height="31.74" fill="#FFC000"/>
<circle cx="182.83" cy="277.24" r="1.3" fill="#000"/>
<rect x="186.72" y="214.17" width="1.6" height="30.43" fill="#548235"/>
<circle cx="187.52" cy="213.27" r="1.3" fill="#000"/>
<rect x="191.41" y="204.38" width="1.6" height="40.22" fill="#FF0000"/>
<rect x="190.96" y="202.28" width="2.5" height="2.4" fill="#000"/>
<rect x="196.10" y="218.74" width="1.6" height="25.86" fill="#FFFF00"/>
<rect x="195.65" y="216.64" width="2.5" height="2.4" fill="#000"/>
<rect x="200.79" y="218.09" width="1.6" height="26.51" fill="#7F7F7F"/>
<circle cx="201.59" cy="217.19" r="1.3" fill="#000"/>
<rect x="205.48" y="215.48" width="1.6" height="29.12" fill="#7F7F7F"/>
<circle cx="206.28" cy="214.58" r="1.3" fill="#000"/>
<rect x="210.17" y="210.91" width="1.6" height="33.69" fill="#ED7D31"/>
<path d="M210.97 208.61 L212.27 210.91 L209.67 210.91 Z" fill="#000"/>
<rect x="214.86" y="244.60" width="1.6" height="41.53" fill="#92D050"/>
<circle cx="215.66" cy="287.03" r="1.3" fill="#000"/>
<rect x="219.55" y="244.60" width="1.6" height="40.55" fill="#92D050"/>
<circle cx="220.35" cy="286.05" r="1.3" fill="#000"/>
<rect x="224.24" y="244.60" width="1.6" height="36.63" fill="#92D050"/>
<circle cx="225.04" cy="282.13" r="1.3" fill="#000"/>
<rect x="228.93" y="244.60" width="1.6" height="29.78" fill="#92D050"/>
<circle cx="229.73" cy="275.28" r="1.3" fill="#000"/>
<rect x="233.62" y="244.60" width="1.6" height="27.16" fill="#92D050"/>
<path d="M234.42 271.26 L235.72 273.56 L233.12 273.56 Z" fill="#000"/>
<rect x="238.31" y="244.60" width="1.6" height="27.16" fill="#92D050"/>
<path d="M239.11 271.26 L240.41 273.56 L237.81 273.56 Z" fill="#000"/>
<rect x="243.00" y="218.74" width="1.6" height="25.86" fill="#92D050"/>
<circle cx="243.80" cy="217.84" r="1.3" fill="#000"/>
<rect x="247.69" y="218.74" width="1.6" height="25.86" fill="#92D050"/>
<rect x="247.24" y="216.64" width="2.5" height="2.4" fill="#000"/>
<rect x="252.38" y="218.74" width="1.6" height="25.86" fill="#92D050"/>
<circle cx="253.18" cy="217.84" r="1.3" fill="#000"/>
<rect x="257.07" y="218.74" width="1.6" height="25.86" fill="#92D050"/>
<path d="M257.87 216.44 L259.17 218.74 L256.57 218.74 Z" fill="#000"/>
<rect x="261.76" y="217.11" width="1.6" height="27.49" fill="#92D050"/>
<circle cx="262.56" cy="216.21" r="1.3" fill="#000"/>
<rect x="266.45" y="217.44" width="1.6" height="27.16" fill="#92D050"/>
<path d="M267.25 215.14 L268.55 217.44 L265.95 217.44 Z" fill="#000"/>
<rect x="271.14" y="216.13" width="1.6" height="28.47" fill="#92D050"/>
<rect x="270.69" y="214.03" width="2.5" height="2.4" fill="#000"/>
<rect x="275.83" y="216.13" width="1.6" height="28.47" fill="#92D050"/>
<rect x="275.38" y="214.03" width="2.5" height="2.4" fill="#000"/>
<rect x="280.52" y="216.46" width="1.6" height="28.14" fill="#92D050"/>
<circle cx="281.32" cy="215.56" r="1.3" fill="#000"/>
<rect x="285.21" y="216.13" width="1.6" height="28.47" fill="#92D050"/>
<path d="M286.01 213.83 L287.31 216.13 L284.71 216.13 Z" fill="#000"/>
<rect x="289.90" y="215.80" width="1.6" height="28.80" fill="#92D050"/>
<rect x="289.45" y="213.70" width="2.5" height="2.4" fill="#000"/>
<rect x="294.59" y="215.80" width="1.6" height="28.80" fill="#92D050"/>
<rect x="294.14" y="213.70" width="2.5" height="2.4" fill="#000"/>
<rect x="299.28" y="215.48" width="1.6" height="29.12" fill="#92D050"/>
<circle cx="300.08" cy="214.58" r="1.3" fill="#000"/>
<rect x="303.97" y="214.50" width="1.6" height="30.10" fill="#92D050"/>
<rect x="303.52" y="212.40" width="2.5" height="2.4" fill="#000"/>
<rect x="308.66" y="214.50" width="1.6" height="30.10" fill="#92D050"/>
<path d="M309.46 212.20 L310.76 214.50 L308.16 214.50 Z" fill="#000"/>
<rect x="313.35" y="214.17" width="1.6" height="30.43" fill="#92D050"/>
<rect x="312.90" y="212.07" width="2.5" height="2.4" fill="#000"/>
<rect x="318.04" y="214.50" width="1.6" height="30.10" fill="#92D050"/>
<path d="M318.84 212.20 L320.14 214.50 L317.54 214.50 Z" fill="#000"/>
<rect x="322.73" y="214.50" width="1.6" height="30.10" fill="#92D050"/>
<path d="M323.53 212.20 L324.83 214.50 L322.23 214.50 Z" fill="#000"/>
<rect x="327.42" y="214.17" width="1.6" height="30.43" fill="#92D050"/>
<circle cx="328.22" cy="213.27" r="1.3" fill="#000"/>
<rect x="332.11" y="212.86" width="1.6" height="31.74" fill="#92D050"/>
<path d="M332.91 210.56 L334.21 212.86 L331.61 212.86 Z" fill="#000"/>
<rect x="336.80" y="212.54" width="1.6" height="32.06" fill="#92D050"/>
<path d="M337.60 210.24 L338.90 212.54 L336.30 212.54 Z" fill="#000"/>
<rect x="341.49" y="212.54" width="1.6" height="32.06" fill="#92D050"/>
<circle cx="342.29" cy="211.64" r="1.3" fill="#000"/>
<rect x="346.18" y="211.56" width="1.6" height="33.04" fill="#92D050"/>
<rect x="345.73" y="209.46" width="2.5" height="2.4" fill="#000"/>
<rect x="350.87" y="211.88" width="1.6" height="32.72" fill="#92D050"/>
<path d="M351.67 209.58 L352.97 211.88 L350.37 211.88 Z" fill="#000"/>
<rect x="355.56" y="211.56" width="1.6" height="33.04" fill="#92D050"/>
<rect x="355.11" y="209.46" width="2.5" height="2.4" fill="#000"/>
<rect x="360.25" y="209.93" width="1.6" height="34.67" fill="#92D050"/>
<path d="M361.05 207.63 L362.35 209.93 L359.75 209.93 Z" fill="#000"/>
<rect x="364.94" y="209.60" width="1.6" height="35.00" fill="#92D050"/>
<path d="M365.74 207.30 L367.04 209.60 L364.44 209.60 Z" fill="#000"/>
<rect x="369.63" y="209.60" width="1.6" height="35.00" fill="#92D050"/>
<path d="M370.43 207.30 L371.73 209.60 L369.13 209.60 Z" fill="#000"/>
<rect x="374.32" y="208.62" width="1.6" height="35.98" fill="#92D050"/>
<path d="M375.12 206.32 L376.42 208.62 L373.82 208.62 Z" fill="#000"/>
<rect x="379.01" y="208.62" width="1.6" height="35.98" fill="#92D050"/>
<circle cx="379.81" cy="207.72" r="1.3" fill="#000"/>
<rect x="383.70" y="207.64" width="1.6" height="36.96" fill="#92D050"/>
<path d="M384.50 205.34 L385.80 207.64 L383.20 207.64 Z" fill="#000"/>
<rect x="388.39" y="207.64" width="1.6" height="36.96" fill="#92D050"/>
<path d="M389.19 205.34 L390.49 207.64 L387.89 207.64 Z" fill="#000"/>
<rect x="393.08" y="206.33" width="1.6" height="38.27" fill="#92D050"/>
<path d="M393.88 204.03 L395.18 206.33 L392.58 206.33 Z" fill="#000"/>
<rect x="397.77" y="206.33" width="1.6" height="38.27" fill="#92D050"/>
<path d="M398.57 204.03 L399.87 206.33 L397.27 206.33 Z" fill="#000"/>
<rect x="402.46" y="205.68" width="1.6" height="38.92" fill="#92D050"/>
<path d="M403.26 203.38 L404.56 205.68 L401.96 205.68 Z" fill="#000"/>
<rect x="407.15" y="205.35" width="1.6" height="39.25" fill="#92D050"/>
<path d="M407.95 203.05 L409.25 205.35 L406.65 205.35 Z" fill="#000"/>
<rect x="411.84" y="205.35" width="1.6" height="39.25" fill="#92D050"/>
<path d="M412.64 203.05 L413.94 205.35 L411.34 205.35 Z" fill="#000"/>
<rect x="416.53" y="205.35" width="1.6" height="39.25" fill="#92D050"/>
<path d="M417.33 203.05 L418.63 205.35 L416.03 205.35 Z" fill="#000"/>
<rect x="421.22" y="203.72" width="1.6" height="40.88" fill="#92D050"/>
<path d="M422.02 201.42 L423.32 203.72 L420.72 203.72 Z" fill="#000"/>
<rect x="425.91" y="201.76" width="1.6" height="42.84" fill="#92D050"/>
<path d="M426.71 199.46 L428.01 201.76 L425.41 201.76 Z" fill="#000"/>
<rect x="430.60" y="200.46" width="1.6" height="44.14" fill="#92D050"/>
<path d="M431.40 198.16 L432.70 200.46 L430.10 200.46 Z" fill="#000"/>
<rect x="435.29" y="200.46" width="1.6" height="44.14" fill="#92D050"/>
<path d="M436.09 198.16 L437.39 200.46 L434.79 200.46 Z" fill="#000"/>
<rect x="439.98" y="199.80" width="1.6" height="44.80" fill="#92D050"/>
<path d="M440.78 197.50 L442.08 199.80 L439.48 199.80 Z" fill="#000"/>
<rect x="444.67" y="197.85" width="1.6" height="46.75" fill="#92D050"/>
<path d="M445.47 195.55 L446.77 197.85 L444.17 197.85 Z" fill="#000"/>
<rect x="449.36" y="195.89" width="1.6" height="48.71" fill="#92D050"/>
<path d="M450.16 193.59 L451.46 195.89 L448.86 195.89 Z" fill="#000"/>
<rect x="454.05" y="195.89" width="1.6" height="48.71" fill="#92D050"/>
<path d="M454.85 193.59 L456.15 195.89 L453.55 195.89 Z" fill="#000"/>
<rect x="458.74" y="195.23" width="1.6" height="49.37" fill="#92D050"/>
<path d="M459.54 192.93 L460.84 195.23 L458.24 195.23 Z" fill="#000"/>
<rect x="463.43" y="189.68" width="1.6" height="54.92" fill="#92D050"/>
<path d="M464.23 187.38 L465.53 189.68 L462.93 189.68 Z" fill="#000"/>
<rect x="468.12" y="189.36" width="1.6" height="55.24" fill="#92D050"/>
<path d="M468.92 187.06 L470.22 189.36 L467.62 189.36 Z" fill="#000"/>
<rect x="472.81" y="187.72" width="1.6" height="56.88" fill="#92D050"/>
<path d="M473.61 185.42 L474.91 187.72 L472.31 187.72 Z" fill="#000"/>
<rect x="477.50" y="186.09" width="1.6" height="58.51" fill="#92D050"/>
<path d="M478.30 183.79 L479.60 186.09 L477.00 186.09 Z" fill="#000"/>
<rect x="482.19" y="244.60" width="1.6" height="40.88" fill="#ED7D31"/>
<rect x="481.74" y="285.18" width="2.5" height="2.4" fill="#000"/>
<rect x="486.88" y="244.60" width="1.6" height="39.90" fill="#ED7D31"/>
<rect x="486.43" y="284.20" width="2.5" height="2.4" fill="#000"/>
<rect x="491.57" y="244.60" width="1.6" height="34.02" fill="#ED7D31"/>
<rect x="491.12" y="278.32" width="2.5" height="2.4" fill="#000"/>
<rect x="496.26" y="244.60" width="1.6" height="27.82" fill="#ED7D31"/>
<rect x="495.81" y="272.12" width="2.5" height="2.4" fill="#000"/>
<rect x="500.95" y="218.09" width="1.6" height="26.51" fill="#000000"/>
<path d="M501.75 215.79 L503.05 218.09 L500.45 218.09 Z" fill="#000"/>
<rect x="505.64" y="216.46" width="1.6" height="28.14" fill="#000000"/>
<circle cx="506.44" cy="215.56" r="1.3" fill="#000"/>
<rect x="510.33" y="215.15" width="1.6" height="29.45" fill="#000000"/>
<circle cx="511.13" cy="214.25" r="1.3" fill="#000"/>
<rect x="515.02" y="215.15" width="1.6" height="29.45" fill="#000000"/>
<circle cx="515.82" cy="214.25" r="1.3" fill="#000"/>
<rect x="519.71" y="214.82" width="1.6" height="29.78" fill="#000000"/>
<rect x="519.26" y="212.72" width="2.5" height="2.4" fill="#000"/>
<rect x="524.40" y="213.52" width="1.6" height="31.08" fill="#000000"/>
<circle cx="525.20" cy="212.62" r="1.3" fill="#000"/>
<rect x="529.09" y="207.97" width="1.6" height="36.63" fill="#000000"/>
<circle cx="529.89" cy="207.07" r="1.3" fill="#000"/>
<rect x="533.78" y="218.09" width="1.6" height="26.51" fill="#FFD24D"/>
<circle cx="534.58" cy="217.19" r="1.3" fill="#000"/>
<rect x="538.47" y="216.13" width="1.6" height="28.47" fill="#CC7A45"/>
<circle cx="539.27" cy="215.23" r="1.3" fill="#000"/>
<rect x="543.16" y="244.60" width="1.6" height="28.14" fill="#F4B183"/>
<path d="M543.96 272.24 L545.26 274.54 L542.66 274.54 Z" fill="#000"/>
<rect x="547.85" y="244.60" width="1.6" height="28.14" fill="#F4B183"/>
<rect x="547.40" y="272.44" width="2.5" height="2.4" fill="#000"/>
<rect x="552.54" y="208.95" width="1.6" height="35.65" fill="#F4B183"/>
<path d="M553.34 206.65 L554.64 208.95 L552.04 208.95 Z" fill="#000"/>
<rect x="557.23" y="244.60" width="1.6" height="26.19" fill="#70AD47"/>
<rect x="556.78" y="270.49" width="2.5" height="2.4" fill="#000"/>
<rect x="561.92" y="244.60" width="1.6" height="40.22" fill="#FF0000"/>
<circle cx="562.72" cy="285.72" r="1.3" fill="#000"/>
<rect x="566.61" y="244.60" width="1.6" height="30.43" fill="#FF0000"/>
<rect x="566.16" y="274.73" width="2.5" height="2.4" fill="#000"/>
<rect x="571.30" y="244.60" width="1.6" height="29.12" fill="#FF0000"/>
<rect x="570.85" y="273.42" width="2.5" height="2.4" fill="#000"/>
<rect x="575.99" y="216.13" width="1.6" height="28.47" fill="#FF0000"/>
<path d="M576.79 213.83 L578.09 216.13 L575.49 216.13 Z" fill="#000"/>
<rect x="580.68" y="244.60" width="1.6" height="46.75" fill="#4472C4"/>
<circle cx="581.48" cy="292.25" r="1.3" fill="#000"/>
<rect x="585.37" y="244.60" width="1.6" height="42.18" fill="#4472C4"/>
<rect x="584.92" y="286.48" width="2.5" height="2.4" fill="#000"/>
<rect x="590.06" y="244.60" width="1.6" height="33.04" fill="#4472C4"/>
<rect x="589.61" y="277.34" width="2.5" height="2.4" fill="#000"/>
<rect x="594.75" y="216.13" width="1.6" height="28.47" fill="#4472C4"/>
<rect x="594.30" y="214.03" width="2.5" height="2.4" fill="#000"/>
<rect x="599.44" y="216.13" width="1.6" height="28.47" fill="#4472C4"/>
<path d="M600.24 213.83 L601.54 216.13 L598.94 216.13 Z" fill="#000"/>
<rect x="604.13" y="216.13" width="1.6" height="28.47" fill="#4472C4"/>
<path d="M604.93 213.83 L606.23 216.13 L603.63 216.13 Z" fill="#000"/>
<rect x="608.82" y="213.52" width="1.6" height="31.08" fill="#4472C4"/>
<path d="M609.62 211.22 L610.92 213.52 L608.32 213.52 Z" fill="#000"/>
<rect x="613.51" y="211.88" width="1.6" height="32.72" fill="#4472C4"/>
<rect x="613.06" y="209.78" width="2.5" height="2.4" fill="#000"/>
<rect x="618.20" y="208.95" width="1.6" height="35.65" fill="#4472C4"/>
<rect x="617.75" y="206.85" width="2.5" height="2.4" fill="#000"/>
<rect x="622.89" y="206.33" width="1.6" height="38.27" fill="#4472C4"/>
<path d="M623.69 204.03 L624.99 206.33 L622.39 206.33 Z" fill="#000"/>
<rect x="627.58" y="205.03" width="1.6" height="39.57" fill="#4472C4"/>
<path d="M628.38 202.73 L629.68 205.03 L627.08 205.03 Z" fill="#000"/>
<rect x="632.27" y="215.48" width="1.6" height="29.12" fill="#FFC000"/>
<rect x="631.82" y="213.38" width="2.5" height="2.4" fill="#000"/>
<text transform="translate(105.30,300.6) rotate(-62)" font-size="3.5" fill="#5c5c5c" text-anchor="end" textLength="13.0" lengthAdjust="spacingAndGlyphs" stroke="#666" stroke-width="0.1">RUG41190</text>
<text transform="translate(109.99,300.6) rotate(-62)" font-size="3.5" fill="#5c5c5c" text-anchor="end" textLength="13.0" lengthAdjust="spacingAndGlyphs" stroke="#666" stroke-width="0.1">RUG87678</text>
<text transform="translate(114.68,300.6) rotate(-62)" font-size="3.5" fill="#5c5c5c" text-anchor="end" textLength="13.0" lengthAdjust="spacingAndGlyphs" stroke="#666" stroke-width="0.1">RUG81333</text>
<text transform="translate(119.37,300.6) rotate(-62)" font-size="3.5" fill="#5c5c5c" text-anchor="end" textLength="13.0" lengthAdjust="spacingAndGlyphs" stroke="#666" stroke-width="0.1">RUG27094</text>
<text transform="translate(124.06,300.6) rotate(-62)" font-size="3.5" fill="#5c5c5c" text-anchor="end" textLength="13.0" lengthAdjust="spacingAndGlyphs" stroke="#666" stroke-width="0.1">RUG58490</text>
<text transform="translate(128.75,300.6) rotate(-62)" font-size="3.5" fill="#5c5c5c" text-anchor="end" textLength="13.0" lengthAdjust="spacingAndGlyphs" stroke="#666" stroke-width="0.1">RUG89157</text>
<text transform="translate(133.44,300.6) rotate(-62)" font-size="3.5" fill="#5c5c5c" text-anchor="end" textLength="13.0" lengthAdjust="spacingAndGlyphs" stroke="#666" stroke-width="0.1">RUG72135</text>
<text transform="translate(138.13,300.6) rotate(-62)" font-size="3.5" fill="#5c5c5c" text-anchor="end" textLength="13.0" lengthAdjust="spacingAndGlyphs" stroke="#666" stroke-width="0.1">RUG92014</text>
<text transform="translate(142.82,300.6) rotate(-62)" font-size="3.5" fill="#5c5c5c" text-anchor="end" textLength="13.0" lengthAdjust="spacingAndGlyphs" stroke="#666" stroke-width="0.1">RUG86133</text>
<text transform="translate(147.51,300.6) rotate(-62)" font-size="3.5" fill="#5c5c5c" text-anchor="end" textLength="13.0" lengthAdjust="spacingAndGlyphs" stroke="#666" stroke-width="0.1">RUG18588</text>
<text transform="translate(152.20,300.6) rotate(-62)" font-size="3.5" fill="#5c5c5c" text-anchor="end" textLength="13.0" lengthAdjust="spacingAndGlyphs" stroke="#666" stroke-width="0.1">RUG89377</text>
<text transform="translate(156.89,300.6) rotate(-62)" font-size="3.5" fill="#5c5c5c" text-anchor="end" textLength="13.0" lengthAdjust="spacingAndGlyphs" stroke="#666" stroke-width="0.1">RUG11725</text>
<text transform="translate(161.58,300.6) rotate(-62)" font-size="3.5" fill="#5c5c5c" text-anchor="end" textLength="13.0" lengthAdjust="spacingAndGlyphs" stroke="#666" stroke-width="0.1">RUG71503</text>
<text transform="translate(166.27,300.6) rotate(-62)" font-size="3.5" fill="#5c5c5c" text-anchor="end" textLength="13.0" lengthAdjust="spacingAndGlyphs" stroke="#666" stroke-width="0.1">RUG43994</text>
<text transform="translate(170.96,300.6) rotate(-62)" font-size="3.5" fill="#5c5c5c" text-anchor="end" textLength="13.0" lengthAdjust="spacingAndGlyphs" stroke="#666" stroke-width="0.1">RUG82192</text>
<text transform="translate(175.65,300.6) rotate(-62)" font-size="3.5" fill="#5c5c5c" text-anchor="end" textLength="13.0" lengthAdjust="spacingAndGlyphs" stroke="#666" stroke-width="0.1">RUG40714</text>
<text transform="translate(180.34,300.6) rotate(-62)" font-size="3.5" fill="#5c5c5c" text-anchor="end" textLength="13.0" lengthAdjust="spacingAndGlyphs" stroke="#666" stroke-width="0.1">RUG35132</text>
<text transform="translate(185.03,300.6) rotate(-62)" font-size="3.5" fill="#5c5c5c" text-anchor="end" textLength="13.0" lengthAdjust="spacingAndGlyphs" stroke="#666" stroke-width="0.1">RUG71638</text>
<text transform="translate(189.72,300.6) rotate(-62)" font-size="3.5" fill="#5c5c5c" text-anchor="end" textLength="13.0" lengthAdjust="spacingAndGlyphs" stroke="#666" stroke-width="0.1">RUG80906</text>
<text transform="translate(194.41,300.6) rotate(-62)" font-size="3.5" fill="#5c5c5c" text-anchor="end" textLength="13.0" lengthAdjust="spacingAndGlyphs" stroke="#666" stroke-width="0.1">RUG82041</text>
<text transform="translate(199.10,300.6) rotate(-62)" font-size="3.5" fill="#5c5c5c" text-anchor="end" textLength="13.0" lengthAdjust="spacingAndGlyphs" stroke="#666" stroke-width="0.1">RUG72436</text>
<text transform="translate(203.79,300.6) rotate(-62)" font-size="3.5" fill="#5c5c5c" text-anchor="end" textLength="13.0" lengthAdjust="spacingAndGlyphs" stroke="#666" stroke-width="0.1">RUG62053</text>
<text transform="translate(208.48,300.6) rotate(-62)" font-size="3.5" fill="#5c5c5c" text-anchor="end" textLength="13.0" lengthAdjust="spacingAndGlyphs" stroke="#666" stroke-width="0.1">RUG93763</text>
<text transform="translate(213.17,300.6) rotate(-62)" font-size="3.5" fill="#5c5c5c" text-anchor="end" textLength="13.0" lengthAdjust="spacingAndGlyphs" stroke="#666" stroke-width="0.1">RUG29741</text>
<text transform="translate(217.86,300.6) rotate(-62)" font-size="3.5" fill="#5c5c5c" text-anchor="end" textLength="13.0" lengthAdjust="spacingAndGlyphs" stroke="#666" stroke-width="0.1">RUG40398</text>
<text transform="translate(222.55,300.6) rotate(-62)" font-size="3.5" fill="#5c5c5c" text-anchor="end" textLength="13.0" lengthAdjust="spacingAndGlyphs" stroke="#666" stroke-width="0.1">RUG93212</text>
<text transform="translate(227.24,300.6) rotate(-62)" font-size="3.5" fill="#5c5c5c" text-anchor="end" textLength="13.0" lengthAdjust="spacingAndGlyphs" stroke="#666" stroke-width="0.1">RUG29873</text>
<text transform="translate(231.93,300.6) rotate(-62)" font-size="3.5" fill="#5c5c5c" text-anchor="end" textLength="13.0" lengthAdjust="spacingAndGlyphs" stroke="#666" stroke-width="0.1">RUG78574</text>
<text transform="translate(236.62,300.6) rotate(-62)" font-size="3.5" fill="#5c5c5c" text-anchor="end" textLength="13.0" lengthAdjust="spacingAndGlyphs" stroke="#666" stroke-width="0.1">RUG61109</text>
<text transform="translate(241.31,300.6) rotate(-62)" font-size="3.5" fill="#5c5c5c" text-anchor="end" textLength="13.0" lengthAdjust="spacingAndGlyphs" stroke="#666" stroke-width="0.1">RUG11985</text>
<text transform="translate(246.00,300.6) rotate(-62)" font-size="3.5" fill="#5c5c5c" text-anchor="end" textLength="13.0" lengthAdjust="spacingAndGlyphs" stroke="#666" stroke-width="0.1">RUG98003</text>
<text transform="translate(250.69,300.6) rotate(-62)" font-size="3.5" fill="#5c5c5c" text-anchor="end" textLength="13.0" lengthAdjust="spacingAndGlyphs" stroke="#666" stroke-width="0.1">RUG18392</text>
<text transform="translate(255.38,300.6) rotate(-62)" font-size="3.5" fill="#5c5c5c" text-anchor="end" textLength="13.0" lengthAdjust="spacingAndGlyphs" stroke="#666" stroke-width="0.1">RUG30892</text>
<text transform="translate(260.07,300.6) rotate(-62)" font-size="3.5" fill="#5c5c5c" text-anchor="end" textLength="13.0" lengthAdjust="spacingAndGlyphs" stroke="#666" stroke-width="0.1">RUG87476</text>
<text transform="translate(264.76,300.6) rotate(-62)" font-size="3.5" fill="#5c5c5c" text-anchor="end" textLength="13.0" lengthAdjust="spacingAndGlyphs" stroke="#666" stroke-width="0.1">RUG15608</text>
<text transform="translate(269.45,300.6) rotate(-62)" font-size="3.5" fill="#5c5c5c" text-anchor="end" textLength="13.0" lengthAdjust="spacingAndGlyphs" stroke="#666" stroke-width="0.1">RUG49487</text>
<text transform="translate(274.14,300.6) rotate(-62)" font-size="3.5" fill="#5c5c5c" text-anchor="end" textLength="13.0" lengthAdjust="spacingAndGlyphs" stroke="#666" stroke-width="0.1">RUG14064</text>
<text transform="translate(278.83,300.6) rotate(-62)" font-size="3.5" fill="#5c5c5c" text-anchor="end" textLength="13.0" lengthAdjust="spacingAndGlyphs" stroke="#666" stroke-width="0.1">RUG45314</text>
<text transform="translate(283.52,300.6) rotate(-62)" font-size="3.5" fill="#5c5c5c" text-anchor="end" textLength="13.0" lengthAdjust="spacingAndGlyphs" stroke="#666" stroke-width="0.1">RUG71964</text>
<text transform="translate(288.21,300.6) rotate(-62)" font-size="3.5" fill="#5c5c5c" text-anchor="end" textLength="13.0" lengthAdjust="spacingAndGlyphs" stroke="#666" stroke-width="0.1">RUG87955</text>
<text transform="translate(292.90,300.6) rotate(-62)" font-size="3.5" fill="#5c5c5c" text-anchor="end" textLength="13.0" lengthAdjust="spacingAndGlyphs" stroke="#666" stroke-width="0.1">RUG60804</text>
<text transform="translate(297.59,300.6) rotate(-62)" font-size="3.5" fill="#5c5c5c" text-anchor="end" textLength="13.0" lengthAdjust="spacingAndGlyphs" stroke="#666" stroke-width="0.1">RUG65959</text>
<text transform="translate(302.28,300.6) rotate(-62)" font-size="3.5" fill="#5c5c5c" text-anchor="end" textLength="13.0" lengthAdjust="spacingAndGlyphs" stroke="#666" stroke-width="0.1">RUG61768</text>
<text transform="translate(306.97,300.6) rotate(-62)" font-size="3.5" fill="#5c5c5c" text-anchor="end" textLength="13.0" lengthAdjust="spacingAndGlyphs" stroke="#666" stroke-width="0.1">RUG85616</text>
<text transform="translate(311.66,300.6) rotate(-62)" font-size="3.5" fill="#5c5c5c" text-anchor="end" textLength="13.0" lengthAdjust="spacingAndGlyphs" stroke="#666" stroke-width="0.1">RUG68277</text>
<text transform="translate(316.35,300.6) rotate(-62)" font-size="3.5" fill="#5c5c5c" text-anchor="end" textLength="13.0" lengthAdjust="spacingAndGlyphs" stroke="#666" stroke-width="0.1">RUG27583</text>
<text transform="translate(321.04,300.6) rotate(-62)" font-size="3.5" fill="#5c5c5c" text-anchor="end" textLength="13.0" lengthAdjust="spacingAndGlyphs" stroke="#666" stroke-width="0.1">RUG57909</text>
<text transform="translate(325.73,300.6) rotate(-62)" font-size="3.5" fill="#5c5c5c" text-anchor="end" textLength="13.0" lengthAdjust="spacingAndGlyphs" stroke="#666" stroke-width="0.1">RUG22773</text>
<text transform="translate(330.42,300.6) rotate(-62)" font-size="3.5" fill="#5c5c5c" text-anchor="end" textLength="13.0" lengthAdjust="spacingAndGlyphs" stroke="#666" stroke-width="0.1">RUG14703</text>
<text transform="translate(335.11,300.6) rotate(-62)" font-size="3.5" fill="#5c5c5c" text-anchor="end" textLength="13.0" lengthAdjust="spacingAndGlyphs" stroke="#666" stroke-width="0.1">RUG27821</text>
<text transform="translate(339.80,300.6) rotate(-62)" font-size="3.5" fill="#5c5c5c" text-anchor="end" textLength="13.0" lengthAdjust="spacingAndGlyphs" stroke="#666" stroke-width="0.1">RUG74865</text>
<text transform="translate(344.49,300.6) rotate(-62)" font-size="3.5" fill="#5c5c5c" text-anchor="end" textLength="13.0" lengthAdjust="spacingAndGlyphs" stroke="#666" stroke-width="0.1">RUG38440</text>
<text transform="translate(349.18,300.6) rotate(-62)" font-size="3.5" fill="#5c5c5c" text-anchor="end" textLength="13.0" lengthAdjust="spacingAndGlyphs" stroke="#666" stroke-width="0.1">RUG43814</text>
<text transform="translate(353.87,300.6) rotate(-62)" font-size="3.5" fill="#5c5c5c" text-anchor="end" textLength="13.0" lengthAdjust="spacingAndGlyphs" stroke="#666" stroke-width="0.1">RUG98085</text>
<text transform="translate(358.56,300.6) rotate(-62)" font-size="3.5" fill="#5c5c5c" text-anchor="end" textLength="13.0" lengthAdjust="spacingAndGlyphs" stroke="#666" stroke-width="0.1">RUG67168</text>
<text transform="translate(363.25,300.6) rotate(-62)" font-size="3.5" fill="#5c5c5c" text-anchor="end" textLength="13.0" lengthAdjust="spacingAndGlyphs" stroke="#666" stroke-width="0.1">RUG92136</text>
<text transform="translate(367.94,300.6) rotate(-62)" font-size="3.5" fill="#5c5c5c" text-anchor="end" textLength="13.0" lengthAdjust="spacingAndGlyphs" stroke="#666" stroke-width="0.1">RUG49456</text>
<text transform="translate(372.63,300.6) rotate(-62)" font-size="3.5" fill="#5c5c5c" text-anchor="end" textLength="13.0" lengthAdjust="spacingAndGlyphs" stroke="#666" stroke-width="0.1">RUG65200</text>
<text transform="translate(377.32,300.6) rotate(-62)" font-size="3.5" fill="#5c5c5c" text-anchor="end" textLength="13.0" lengthAdjust="spacingAndGlyphs" stroke="#666" stroke-width="0.1">RUG76485</text>
<text transform="translate(382.01,300.6) rotate(-62)" font-size="3.5" fill="#5c5c5c" text-anchor="end" textLength="13.0" lengthAdjust="spacingAndGlyphs" stroke="#666" stroke-width="0.1">RUG60576</text>
<text transform="translate(386.70,300.6) rotate(-62)" font-size="3.5" fill="#5c5c5c" text-anchor="end" textLength="13.0" lengthAdjust="spacingAndGlyphs" stroke="#666" stroke-width="0.1">RUG85238</text>
<text transform="translate(391.39,300.6) rotate(-62)" font-size="3.5" fill="#5c5c5c" text-anchor="end" textLength="13.0" lengthAdjust="spacingAndGlyphs" stroke="#666" stroke-width="0.1">RUG55994</text>
<text transform="translate(396.08,300.6) rotate(-62)" font-size="3.5" fill="#5c5c5c" text-anchor="end" textLength="13.0" lengthAdjust="spacingAndGlyphs" stroke="#666" stroke-width="0.1">RUG80005</text>
<text transform="translate(400.77,300.6) rotate(-62)" font-size="3.5" fill="#5c5c5c" text-anchor="end" textLength="13.0" lengthAdjust="spacingAndGlyphs" stroke="#666" stroke-width="0.1">RUG86686</text>
<text transform="translate(405.46,300.6) rotate(-62)" font-size="3.5" fill="#5c5c5c" text-anchor="end" textLength="13.0" lengthAdjust="spacingAndGlyphs" stroke="#666" stroke-width="0.1">RUG63421</text>
<text transform="translate(410.15,300.6) rotate(-62)" font-size="3.5" fill="#5c5c5c" text-anchor="end" textLength="13.0" lengthAdjust="spacingAndGlyphs" stroke="#666" stroke-width="0.1">RUG86579</text>
<text transform="translate(414.84,300.6) rotate(-62)" font-size="3.5" fill="#5c5c5c" text-anchor="end" textLength="13.0" lengthAdjust="spacingAndGlyphs" stroke="#666" stroke-width="0.1">RUG40459</text>
<text transform="translate(419.53,300.6) rotate(-62)" font-size="3.5" fill="#5c5c5c" text-anchor="end" textLength="13.0" lengthAdjust="spacingAndGlyphs" stroke="#666" stroke-width="0.1">RUG54140</text>
<text transform="translate(424.22,300.6) rotate(-62)" font-size="3.5" fill="#5c5c5c" text-anchor="end" textLength="13.0" lengthAdjust="spacingAndGlyphs" stroke="#666" stroke-width="0.1">RUG99388</text>
<text transform="translate(428.91,300.6) rotate(-62)" font-size="3.5" fill="#5c5c5c" text-anchor="end" textLength="13.0" lengthAdjust="spacingAndGlyphs" stroke="#666" stroke-width="0.1">RUG13756</text>
<text transform="translate(433.60,300.6) rotate(-62)" font-size="3.5" fill="#5c5c5c" text-anchor="end" textLength="13.0" lengthAdjust="spacingAndGlyphs" stroke="#666" stroke-width="0.1">RUG46658</text>
<text transform="translate(438.29,300.6) rotate(-62)" font-size="3.5" fill="#5c5c5c" text-anchor="end" textLength="13.0" lengthAdjust="spacingAndGlyphs" stroke="#666" stroke-width="0.1">RUG89405</text>
<text transform="translate(442.98,300.6) rotate(-62)" font-size="3.5" fill="#5c5c5c" text-anchor="end" textLength="13.0" lengthAdjust="spacingAndGlyphs" stroke="#666" stroke-width="0.1">RUG97985</text>
<text transform="translate(447.67,300.6) rotate(-62)" font-size="3.5" fill="#5c5c5c" text-anchor="end" textLength="13.0" lengthAdjust="spacingAndGlyphs" stroke="#666" stroke-width="0.1">RUG31377</text>
<text transform="translate(452.36,300.6) rotate(-62)" font-size="3.5" fill="#5c5c5c" text-anchor="end" textLength="13.0" lengthAdjust="spacingAndGlyphs" stroke="#666" stroke-width="0.1">RUG52780</text>
<text transform="translate(457.05,300.6) rotate(-62)" font-size="3.5" fill="#5c5c5c" text-anchor="end" textLength="13.0" lengthAdjust="spacingAndGlyphs" stroke="#666" stroke-width="0.1">RUG81010</text>
<text transform="translate(461.74,300.6) rotate(-62)" font-size="3.5" fill="#5c5c5c" text-anchor="end" textLength="13.0" lengthAdjust="spacingAndGlyphs" stroke="#666" stroke-width="0.1">RUG84967</text>
<text transform="translate(466.43,300.6) rotate(-62)" font-size="3.5" fill="#5c5c5c" text-anchor="end" textLength="13.0" lengthAdjust="spacingAndGlyphs" stroke="#666" stroke-width="0.1">RUG84594</text>
<text transform="translate(471.12,300.6) rotate(-62)" font-size="3.5" fill="#5c5c5c" text-anchor="end" textLength="13.0" lengthAdjust="spacingAndGlyphs" stroke="#666" stroke-width="0.1">RUG23641</text>
<text transform="translate(475.81,300.6) rotate(-62)" font-size="3.5" fill="#5c5c5c" text-anchor="end" textLength="13.0" lengthAdjust="spacingAndGlyphs" stroke="#666" stroke-width="0.1">RUG95919</text>
<text transform="translate(480.50,300.6) rotate(-62)" font-size="3.5" fill="#5c5c5c" text-anchor="end" textLength="13.0" lengthAdjust="spacingAndGlyphs" stroke="#666" stroke-width="0.1">RUG37672</text>
<text transform="translate(485.19,300.6) rotate(-62)" font-size="3.5" fill="#5c5c5c" text-anchor="end" textLength="13.0" lengthAdjust="spacingAndGlyphs" stroke="#666" stroke-width="0.1">RUG92965</text>
<text transform="translate(489.88,300.6) rotate(-62)" font-size="3.5" fill="#5c5c5c" text-anchor="end" textLength="13.0" lengthAdjust="spacingAndGlyphs" stroke="#666" stroke-width="0.1">RUG85174</text>
<text transform="translate(494.57,300.6) rotate(-62)" font-size="3.5" fill="#5c5c5c" text-anchor="end" textLength="13.0" lengthAdjust="spacingAndGlyphs" stroke="#666" stroke-width="0.1">RUG45007</text>
<text transform="translate(499.26,300.6) rotate(-62)" font-size="3.5" fill="#5c5c5c" text-anchor="end" textLength="13.0" lengthAdjust="spacingAndGlyphs" stroke="#666" stroke-width="0.1">RUG47349</text>
<text transform="translate(503.95,300.6) rotate(-62)" font-size="3.5" fill="#5c5c5c" text-anchor="end" textLength="13.0" lengthAdjust="spacingAndGlyphs" stroke="#666" stroke-width="0.1">RUG26309</text>
<text transform="translate(508.64,300.6) rotate(-62)" font-size="3.5" fill="#5c5c5c" text-anchor="end" textLength="13.0" lengthAdjust="spacingAndGlyphs" stroke="#666" stroke-width="0.1">RUG18317</text>
<text transform="translate(513.33,300.6) rotate(-62)" font-size="3.5" fill="#5c5c5c" text-anchor="end" textLength="13.0" lengthAdjust="spacingAndGlyphs" stroke="#666" stroke-width="0.1">RUG73176</text>
<text transform="translate(518.02,300.6) rotate(-62)" font-size="3.5" fill="#5c5c5c" text-anchor="end" textLength="13.0" lengthAdjust="spacingAndGlyphs" stroke="#666" stroke-width="0.1">RUG93723</text>
<text transform="translate(522.71,300.6) rotate(-62)" font-size="3.5" fill="#5c5c5c" text-anchor="end" textLength="13.0" lengthAdjust="spacingAndGlyphs" stroke="#666" stroke-width="0.1">RUG73374</text>
<text transform="translate(527.40,300.6) rotate(-62)" font-size="3.5" fill="#5c5c5c" text-anchor="end" textLength="13.0" lengthAdjust="spacingAndGlyphs" stroke="#666" stroke-width="0.1">RUG21602</text>
<text transform="translate(532.09,300.6) rotate(-62)" font-size="3.5" fill="#5c5c5c" text-anchor="end" textLength="13.0" lengthAdjust="spacingAndGlyphs" stroke="#666" stroke-width="0.1">RUG55099</text>
<text transform="translate(536.78,300.6) rotate(-62)" font-size="3.5" fill="#5c5c5c" text-anchor="end" textLength="13.0" lengthAdjust="spacingAndGlyphs" stroke="#666" stroke-width="0.1">RUG18730</text>
<text transform="translate(541.47,300.6) rotate(-62)" font-size="3.5" fill="#5c5c5c" text-anchor="end" textLength="13.0" lengthAdjust="spacingAndGlyphs" stroke="#666" stroke-width="0.1">RUG63800</text>
<text transform="translate(546.16,300.6) rotate(-62)" font-size="3.5" fill="#5c5c5c" text-anchor="end" textLength="13.0" lengthAdjust="spacingAndGlyphs" stroke="#666" stroke-width="0.1">RUG29761</text>
<text transform="translate(550.85,300.6) rotate(-62)" font-size="3.5" fill="#5c5c5c" text-anchor="end" textLength="13.0" lengthAdjust="spacingAndGlyphs" stroke="#666" stroke-width="0.1">RUG12637</text>
<text transform="translate(555.54,300.6) rotate(-62)" font-size="3.5" fill="#5c5c5c" text-anchor="end" textLength="13.0" lengthAdjust="spacingAndGlyphs" stroke="#666" stroke-width="0.1">RUG48520</text>
<text transform="translate(560.23,300.6) rotate(-62)" font-size="3.5" fill="#5c5c5c" text-anchor="end" textLength="13.0" lengthAdjust="spacingAndGlyphs" stroke="#666" stroke-width="0.1">RUG65986</text>
<text transform="translate(564.92,300.6) rotate(-62)" font-size="3.5" fill="#5c5c5c" text-anchor="end" textLength="13.0" lengthAdjust="spacingAndGlyphs" stroke="#666" stroke-width="0.1">RUG64420</text>
<text transform="translate(569.61,300.6) rotate(-62)" font-size="3.5" fill="#5c5c5c" text-anchor="end" textLength="13.0" lengthAdjust="spacingAndGlyphs" stroke="#666" stroke-width="0.1">RUG25586</text>
<text transform="translate(574.30,300.6) rotate(-62)" font-size="3.5" fill="#5c5c5c" text-anchor="end" textLength="13.0" lengthAdjust="spacingAndGlyphs" stroke="#666" stroke-width="0.1">RUG15792</text>
<text transform="translate(578.99,300.6) rotate(-62)" font-size="3.5" fill="#5c5c5c" text-anchor="end" textLength="13.0" lengthAdjust="spacingAndGlyphs" stroke="#666" stroke-width="0.1">RUG89297</text>
<text transform="translate(583.68,300.6) rotate(-62)" font-size="3.5" fill="#5c5c5c" text-anchor="end" textLength="13.0" lengthAdjust="spacingAndGlyphs" stroke="#666" stroke-width="0.1">RUG90548</text>
<text transform="translate(588.37,300.6) rotate(-62)" font-size="3.5" fill="#5c5c5c" text-anchor="end" textLength="13.0" lengthAdjust="spacingAndGlyphs" stroke="#666" stroke-width="0.1">RUG15890</text>
<text transform="translate(593.06,300.6) rotate(-62)" font-size="3.5" fill="#5c5c5c" text-anchor="end" textLength="13.0" lengthAdjust="spacingAndGlyphs" stroke="#666" stroke-width="0.1">RUG59519</text>
<text transform="translate(597.75,300.6) rotate(-62)" font-size="3.5" fill="#5c5c5c" text-anchor="end" textLength="13.0" lengthAdjust="spacingAndGlyphs" stroke="#666" stroke-width="0.1">RUG86857</text>
<text transform="translate(602.44,300.6) rotate(-62)" font-size="3.5" fill="#5c5c5c" text-anchor="end" textLength="13.0" lengthAdjust="spacingAndGlyphs" stroke="#666" stroke-width="0.1">RUG53378</text>
<text transform="translate(607.13,300.6) rotate(-62)" font-size="3.5" fill="#5c5c5c" text-anchor="end" textLength="13.0" lengthAdjust="spacingAndGlyphs" stroke="#666" stroke-width="0.1">RUG82201</text>
<text transform="translate(611.82,300.6) rotate(-62)" font-size="3.5" fill="#5c5c5c" text-anchor="end" textLength="13.0" lengthAdjust="spacingAndGlyphs" stroke="#666" stroke-width="0.1">RUG46578</text>
<text transform="translate(616.51,300.6) rotate(-62)" font-size="3.5" fill="#5c5c5c" text-anchor="end" textLength="13.0" lengthAdjust="spacingAndGlyphs" stroke="#666" stroke-width="0.1">RUG76246</text>
<text transform="translate(621.20,300.6) rotate(-62)" font-size="3.5" fill="#5c5c5c" text-anchor="end" textLength="13.0" lengthAdjust="spacingAndGlyphs" stroke="#666" stroke-width="0.1">RUG40926</text>
<text transform="translate(625.89,300.6) rotate(-62)" font-size="3.5" fill="#5c5c5c" text-anchor="end" textLength="13.0" lengthAdjust="spacingAndGlyphs" stroke="#666" stroke-width="0.1">RUG14720</text>
<text transform="translate(630.58,300.6) rotate(-62)" font-size="3.5" fill="#5c5c5c" text-anchor="end" textLength="13.0" lengthAdjust="spacingAndGlyphs" stroke="#666" stroke-width="0.1">RUG50589</text>
<text transform="translate(635.27,300.6) rotate(-62)" font-size="3.5" fill="#5c5c5c" text-anchor="end" textLength="13.0" lengthAdjust="spacingAndGlyphs" stroke="#666" stroke-width="0.1">RUG10948</text>
<rect x="94.90" y="312.95" width="10.30" height="1.35" fill="#ED7D31"/>
<rect x="106.60" y="312.95" width="67.10" height="1.35" fill="#5B9BD5"/>
<rect x="175.10" y="312.95" width="4.20" height="1.35" fill="#FFC000"/>
<rect x="180.10" y="312.95" width="3.80" height="1.35" fill="#548235"/>
<rect x="185.10" y="312.95" width="4.00" height="1.35" fill="#FF0000"/>
<rect x="190.10" y="312.95" width="4.00" height="1.35" fill="#FFFF00"/>
<rect x="195.10" y="312.95" width="7.90" height="1.35" fill="#7F7F7F"/>
<rect x="204.00" y="312.95" width="4.00" height="1.35" fill="#ED7D31"/>
<rect x="209.20" y="312.95" width="264.60" height="1.35" fill="#92D050"/>
<rect x="475.00" y="312.95" width="18.00" height="1.35" fill="#ED7D31"/>
<rect x="494.90" y="312.95" width="31.00" height="1.35" fill="#000000"/>
<rect x="527.00" y="312.95" width="3.80" height="1.35" fill="#FFD24D"/>
<rect x="532.00" y="312.95" width="3.80" height="1.35" fill="#CC7A45"/>
<rect x="536.80" y="312.95" width="12.10" height="1.35" fill="#F4B183"/>
<rect x="549.90" y="312.95" width="4.40" height="1.35" fill="#70AD47"/>
<rect x="555.20" y="312.95" width="16.60" height="1.35" fill="#FF0000"/>
<rect x="573.70" y="312.95" width="49.70" height="1.35" fill="#4472C4"/>
<rect x="624.80" y="312.95" width="4.10" height="1.35" fill="#FFC000"/>
<text x="34.90" y="310.50" font-size="8" fill="#000" textLength="47.70" lengthAdjust="spacingAndGlyphs">Genome bins</text>
<text x="1.00" y="338.40" font-size="8.2" fill="#000" textLength="83.20" lengthAdjust="spacingAndGlyphs">Taxonomy (order level)</text>
<text transform="translate(102.20,319.30) rotate(-56)" font-size="6.9" fill="#000" stroke="#000" stroke-width="0.12" text-anchor="end">Acholeplasmatales</text>
<text transform="translate(138.20,318.00) rotate(-56)" font-size="6.9" fill="#000" stroke="#000" stroke-width="0.12" text-anchor="end">Bacteroidales</text>
<text transform="translate(177.10,318.80) rotate(-56)" font-size="6.9" fill="#000" stroke="#000" stroke-width="0.12" text-anchor="end">Clostridiales</text>
<text transform="translate(183.20,318.80) rotate(-56)" font-size="6.9" fill="#000" stroke="#000" stroke-width="0.12" text-anchor="end">Coriobacteriales</text>
<text transform="translate(189.20,318.80) rotate(-56)" font-size="6.9" fill="#000" stroke="#000" stroke-width="0.12" text-anchor="end">Desulfovibrionales</text>
<text transform="translate(195.30,318.80) rotate(-56)" font-size="6.9" fill="#000" stroke="#000" stroke-width="0.12" text-anchor="end">Enterobacterales</text>
<text transform="translate(201.40,318.80) rotate(-56)" font-size="6.9" fill="#000" stroke="#000" stroke-width="0.12" text-anchor="end">Erysipelotrichales</text>
<text transform="translate(207.50,318.80) rotate(-56)" font-size="6.9" fill="#000" stroke="#000" stroke-width="0.12" text-anchor="end">Izemoplasmatales</text>
<text transform="translate(355.90,317.70) rotate(-56)" font-size="6.9" fill="#000" stroke="#000" stroke-width="0.12" text-anchor="end">Lachnospirales</text>
<text transform="translate(486.20,318.60) rotate(-56)" font-size="6.9" fill="#000" stroke="#000" stroke-width="0.12" text-anchor="end">Lactobacillales</text>
<text transform="translate(512.30,318.60) rotate(-56)" font-size="6.9" fill="#000" stroke="#000" stroke-width="0.12" text-anchor="end">Oscillospirales</text>
<text transform="translate(529.70,318.60) rotate(-56)" font-size="6.9" fill="#000" stroke="#000" stroke-width="0.12" text-anchor="end">Peptostreptococcales</text>
<text transform="translate(535.30,318.60) rotate(-56)" font-size="6.9" fill="#000" stroke="#000" stroke-width="0.12" text-anchor="end">Pirellulales</text>
<text transform="translate(543.60,318.60) rotate(-56)" font-size="6.9" fill="#000" stroke="#000" stroke-width="0.12" text-anchor="end">RFN20</text>
<text transform="translate(553.90,318.60) rotate(-56)" font-size="6.9" fill="#000" stroke="#000" stroke-width="0.12" text-anchor="end">Saccharofermentanales</text>
<text transform="translate(564.40,318.60) rotate(-56)" font-size="6.9" fill="#000" stroke="#000" stroke-width="0.12" text-anchor="end">Selenomonadales</text>
<text transform="translate(602.70,318.60) rotate(-56)" font-size="6.9" fill="#000" stroke="#000" stroke-width="0.12" text-anchor="end">Treponematales</text>
<text transform="translate(631.00,318.60) rotate(-56)" font-size="6.9" fill="#000" stroke="#000" stroke-width="0.12" text-anchor="end">UBA4068</text>
</svg>
</body></html>
